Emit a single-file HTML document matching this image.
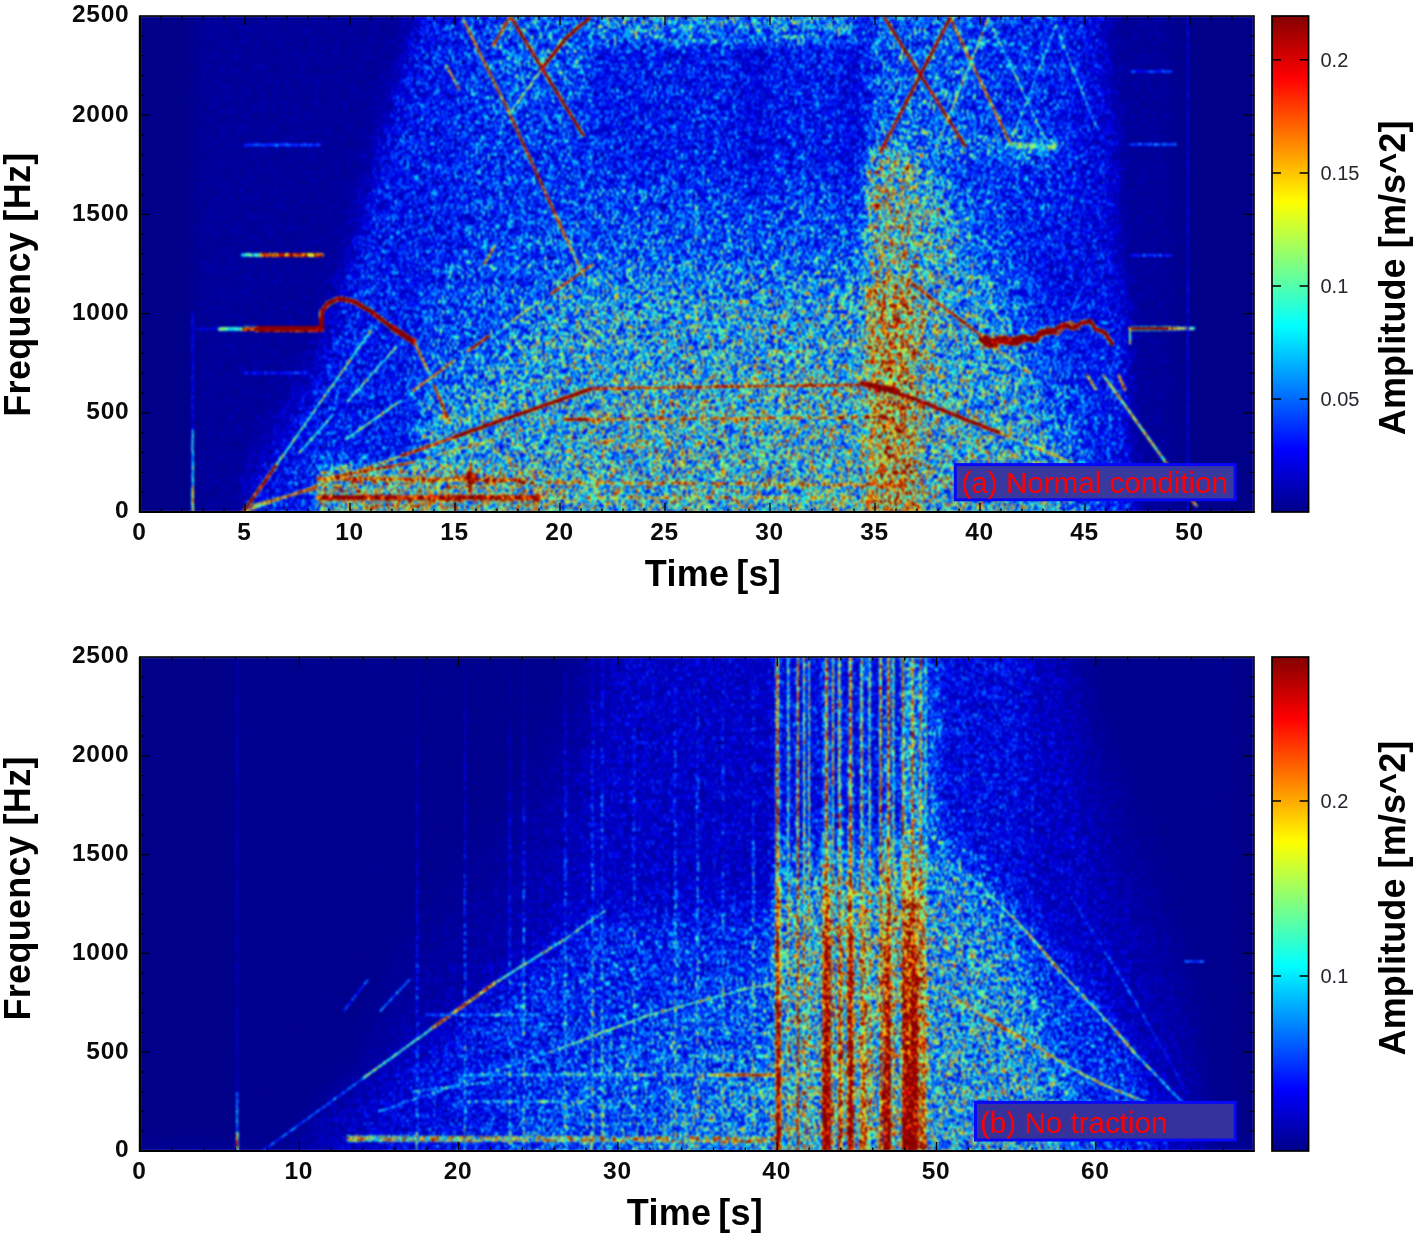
<!DOCTYPE html>
<html lang="en"><head><meta charset="utf-8"><title>Spectrograms</title>
<style>
html,body{margin:0;padding:0;background:#fff;}
body{width:1416px;height:1236px;overflow:hidden;font-family:"Liberation Sans",Arial,sans-serif;}
svg{display:block}
.tk{font:bold 24.5px "Liberation Sans",Arial,sans-serif;fill:#0a0a0a;letter-spacing:0.7px}
.ax{font:bold 36px "Liberation Sans",Arial,sans-serif;fill:#000;letter-spacing:0.3px}
.cb{font:20px "Liberation Sans",Arial,sans-serif;fill:#25252d}
.lb{font:29.6px "Liberation Sans",Arial,sans-serif;fill:#ff0000}
</style></head><body>
<svg width="1416" height="1236" viewBox="0 0 1416 1236">
<defs>
<linearGradient id="jet" x1="0" y1="0" x2="0" y2="1">
<stop offset="0" stop-color="#840000"/><stop offset="0.125" stop-color="#ff0000"/>
<stop offset="0.375" stop-color="#ffff00"/><stop offset="0.5" stop-color="#80ff80"/>
<stop offset="0.625" stop-color="#00ffff"/><stop offset="0.875" stop-color="#0000ff"/>
<stop offset="1" stop-color="#000088"/></linearGradient>

<filter id="sp1" filterUnits="userSpaceOnUse" x="140.0" y="16.0" width="1114.0" height="496.0" color-interpolation-filters="sRGB">
<feTurbulence type="fractalNoise" baseFrequency="0.42 0.20" numOctaves="2" seed="4" result="n1"/>
<feTurbulence type="fractalNoise" baseFrequency="0.60 0.28" numOctaves="2" seed="11" result="n2"/>
<feTurbulence type="fractalNoise" baseFrequency="0.15 0.08" numOctaves="1" seed="7" result="n3"/>
<feComposite in="n1" in2="n2" operator="arithmetic" k1="0" k2="0.5" k3="0.5" k4="0" result="n12"/>
<feComposite in="n12" in2="n3" operator="arithmetic" k1="0" k2="0.78" k3="0.22" k4="0" result="n"/>
<feColorMatrix in="n" type="matrix" values="1 0 0 0 0  1 0 0 0 0  1 0 0 0 0  0 0 0 0 1" result="ng"/>
<feComponentTransfer in="ng" result="nc"><feFuncR type="linear" slope="3.0" intercept="-1.0"/><feFuncG type="linear" slope="3.0" intercept="-1.0"/><feFuncB type="linear" slope="3.0" intercept="-1.0"/></feComponentTransfer>
<feComponentTransfer in="nc" result="ne"><feFuncR type="gamma" exponent="2.0"/><feFuncG type="gamma" exponent="2.0"/><feFuncB type="gamma" exponent="2.0"/></feComponentTransfer>
<feColorMatrix in="SourceGraphic" type="matrix" values="1 0 0 0 0  1 0 0 0 0  1 0 0 0 0  0 0 0 0 1" result="fr"/>
<feColorMatrix in="SourceGraphic" type="matrix" values="0 1 0 0 0  0 1 0 0 0  0 1 0 0 0  0 0 0 0 1" result="fg"/>
<feComposite in="fr" in2="ne" operator="arithmetic" k1="1.7" k2="0.12" k3="0" k4="0" result="m0"/>
<feComposite in="m0" in2="fg" operator="arithmetic" k1="0" k2="1" k3="1" k4="0" result="m"/>
<feComponentTransfer in="m" result="j"><feFuncR type="table" tableValues="0 0 0 0 0.5 1 1 1 0.52"/><feFuncG type="table" tableValues="0 0 0.5 1 1 1 0.5 0 0"/><feFuncB type="table" tableValues="0.54 1 1 1 0.5 0 0 0 0"/><feFuncA type="linear" slope="0" intercept="1"/></feComponentTransfer>
<feGaussianBlur in="j" stdDeviation="0.9"/>
</filter>
<filter id="sp2" filterUnits="userSpaceOnUse" x="140.0" y="657.0" width="1114.0" height="494.0" color-interpolation-filters="sRGB">
<feTurbulence type="fractalNoise" baseFrequency="0.44 0.22" numOctaves="2" seed="23" result="n1"/>
<feTurbulence type="fractalNoise" baseFrequency="0.62 0.31" numOctaves="2" seed="30" result="n2"/>
<feTurbulence type="fractalNoise" baseFrequency="0.16 0.08" numOctaves="1" seed="26" result="n3"/>
<feComposite in="n1" in2="n2" operator="arithmetic" k1="0" k2="0.5" k3="0.5" k4="0" result="n12"/>
<feComposite in="n12" in2="n3" operator="arithmetic" k1="0" k2="0.78" k3="0.22" k4="0" result="n"/>
<feColorMatrix in="n" type="matrix" values="1 0 0 0 0  1 0 0 0 0  1 0 0 0 0  0 0 0 0 1" result="ng"/>
<feComponentTransfer in="ng" result="nc"><feFuncR type="linear" slope="3.0" intercept="-1.0"/><feFuncG type="linear" slope="3.0" intercept="-1.0"/><feFuncB type="linear" slope="3.0" intercept="-1.0"/></feComponentTransfer>
<feComponentTransfer in="nc" result="ne"><feFuncR type="gamma" exponent="2.0"/><feFuncG type="gamma" exponent="2.0"/><feFuncB type="gamma" exponent="2.0"/></feComponentTransfer>
<feColorMatrix in="SourceGraphic" type="matrix" values="1 0 0 0 0  1 0 0 0 0  1 0 0 0 0  0 0 0 0 1" result="fr"/>
<feColorMatrix in="SourceGraphic" type="matrix" values="0 1 0 0 0  0 1 0 0 0  0 1 0 0 0  0 0 0 0 1" result="fg"/>
<feComposite in="fr" in2="ne" operator="arithmetic" k1="1.7" k2="0.12" k3="0" k4="0" result="m0"/>
<feComposite in="m0" in2="fg" operator="arithmetic" k1="0" k2="1" k3="1" k4="0" result="m"/>
<feComponentTransfer in="m" result="j"><feFuncR type="table" tableValues="0 0 0 0 0.5 1 1 1 0.52"/><feFuncG type="table" tableValues="0 0 0.5 1 1 1 0.5 0 0"/><feFuncB type="table" tableValues="0.54 1 1 1 0.5 0 0 0 0"/><feFuncA type="linear" slope="0" intercept="1"/></feComponentTransfer>
<feGaussianBlur in="j" stdDeviation="0.9"/>
</filter>
<filter id="bg" color-interpolation-filters="sRGB" x="-5%" y="-5%" width="110%" height="110%"><feGaussianBlur stdDeviation="7 10"/></filter>
<filter id="b8" color-interpolation-filters="sRGB" x="-20%" y="-20%" width="140%" height="140%"><feGaussianBlur stdDeviation="8"/></filter>
<filter id="b16" color-interpolation-filters="sRGB" x="-20%" y="-20%" width="140%" height="140%"><feGaussianBlur stdDeviation="16"/></filter>
<filter id="b3" color-interpolation-filters="sRGB" x="-20%" y="-20%" width="140%" height="140%"><feGaussianBlur stdDeviation="3"/></filter>
<filter id="b07" color-interpolation-filters="sRGB" x="-20%" y="-5%" width="140%" height="110%"><feGaussianBlur stdDeviation="0.7 0"/></filter>
<filter id="b1" color-interpolation-filters="sRGB" x="-20%" y="-20%" width="140%" height="140%"><feGaussianBlur stdDeviation="1"/></filter>
<clipPath id="c1"><rect x="140.0" y="16.0" width="1114.0" height="496.0"/></clipPath>
<clipPath id="c2"><rect x="140.0" y="657.0" width="1114.0" height="494.0"/></clipPath>
</defs>
<g clip-path="url(#c1)"><g filter="url(#sp1)">
<rect x="90.0" y="-34.0" width="1214.0" height="596.0" fill="#000"/>
<g filter="url(#bg)">
<path fill="#040000" d="M1169.0 512.0H1179.8V532.1H1169.0zM1169.0 492.2H1179.8V512.3H1169.0zM1169.0 472.3H1179.8V492.5H1169.0zM1169.0 452.5H1179.8V472.6H1169.0zM1169.0 432.6H1179.8V452.8H1169.0zM1169.0 412.8H1179.8V432.9H1169.0zM1169.0 393.0H1179.8V413.1H1169.0zM1169.0 373.1H1179.8V393.3H1169.0zM1169.0 353.3H1179.8V373.4H1169.0zM1169.0 333.4H1179.8V353.6H1169.0zM1169.0 313.6H1179.8V333.7H1169.0zM1169.0 293.8H1179.8V313.9H1169.0zM1169.0 273.9H1179.8V294.1H1169.0zM1169.0 254.1H1179.8V274.2H1169.0zM1169.0 234.2H1179.8V254.4H1169.0zM1169.0 214.4H1179.8V234.5H1169.0zM1169.0 194.6H1179.8V214.7H1169.0zM1169.0 174.7H1179.8V194.9H1169.0zM1169.0 154.9H1179.8V175.0H1169.0zM1169.0 135.0H1179.8V155.2H1169.0zM1169.0 115.2H1179.8V135.3H1169.0zM1169.0 95.4H1179.8V115.5H1169.0zM1169.0 75.5H1179.8V95.7H1169.0zM1169.0 55.7H1179.8V75.8H1169.0zM1169.0 35.8H1179.8V56.0H1169.0zM1169.0 16.0H1179.8V36.1H1169.0zM1169.0 -3.8H1179.8V16.3H1169.0z"/>
<path fill="#060000" d="M192.5 512.0H203.3V532.1H192.5zM192.5 492.2H203.3V512.3H192.5zM192.5 472.3H203.3V492.5H192.5zM192.5 452.5H203.3V472.6H192.5zM192.5 432.6H203.3V452.8H192.5zM192.5 412.8H203.3V432.9H192.5zM192.5 393.0H203.3V413.1H192.5zM192.5 373.1H203.3V393.3H192.5zM192.5 353.3H203.3V373.4H192.5zM192.5 333.4H203.3V353.6H192.5zM192.5 313.6H203.3V333.7H192.5zM192.5 293.8H203.3V313.9H192.5zM192.5 273.9H203.3V294.1H192.5zM192.5 254.1H203.3V274.2H192.5zM192.5 234.2H203.3V254.4H192.5zM192.5 214.4H203.3V234.5H192.5zM192.5 194.6H203.3V214.7H192.5zM192.5 174.7H203.3V194.9H192.5zM192.5 154.9H203.3V175.0H192.5zM192.5 135.0H203.3V155.2H192.5zM192.5 115.2H203.3V135.3H192.5zM192.5 95.4H203.3V115.5H192.5zM192.5 75.5H203.3V95.7H192.5zM192.5 55.7H203.3V75.8H192.5zM192.5 35.8H203.3V56.0H192.5zM192.5 16.0H203.3V36.1H192.5zM192.5 -3.8H203.3V16.3H192.5z"/>
<path fill="#080000" d="M203.0 512.0H245.3V532.1H203.0zM1137.5 512.0H1169.3V532.1H1137.5zM203.0 492.2H245.3V512.3H203.0zM1137.5 492.2H1169.3V512.3H1137.5zM203.0 472.3H245.3V492.5H203.0zM1137.5 472.3H1169.3V492.5H1137.5zM203.0 452.5H245.3V472.6H203.0zM1137.5 452.5H1169.3V472.6H1137.5zM203.0 432.6H255.8V452.8H203.0zM1137.5 432.6H1169.3V452.8H1137.5zM203.0 412.8H266.3V432.9H203.0zM1127.0 412.8H1169.3V432.9H1127.0zM203.0 393.0H276.8V413.1H203.0zM1127.0 393.0H1169.3V413.1H1127.0zM203.0 373.1H287.3V393.3H203.0zM1127.0 373.1H1169.3V393.3H1127.0zM203.0 353.3H297.8V373.4H203.0zM1127.0 353.3H1169.3V373.4H1127.0zM203.0 333.4H308.3V353.6H203.0zM1127.0 333.4H1169.3V353.6H1127.0zM203.0 313.6H318.8V333.7H203.0zM1127.0 313.6H1169.3V333.7H1127.0zM203.0 293.8H329.3V313.9H203.0zM1127.0 293.8H1169.3V313.9H1127.0zM203.0 273.9H329.3V294.1H203.0zM1127.0 273.9H1169.3V294.1H1127.0zM203.0 254.1H339.8V274.2H203.0zM1127.0 254.1H1169.3V274.2H1127.0zM203.0 234.2H339.8V254.4H203.0zM1116.5 234.2H1169.3V254.4H1116.5zM203.0 214.4H350.3V234.5H203.0zM1116.5 214.4H1169.3V234.5H1116.5zM203.0 194.6H350.3V214.7H203.0zM1116.5 194.6H1169.3V214.7H1116.5zM203.0 174.7H360.8V194.9H203.0zM1116.5 174.7H1169.3V194.9H1116.5zM203.0 154.9H360.8V175.0H203.0zM1116.5 154.9H1169.3V175.0H1116.5zM203.0 135.0H371.3V155.2H203.0zM1116.5 135.0H1169.3V155.2H1116.5zM203.0 115.2H371.3V135.3H203.0zM1116.5 115.2H1169.3V135.3H1116.5zM203.0 95.4H381.8V115.5H203.0zM1116.5 95.4H1169.3V115.5H1116.5zM203.0 75.5H392.3V95.7H203.0zM1116.5 75.5H1169.3V95.7H1116.5zM203.0 55.7H392.3V75.8H203.0zM1116.5 55.7H1169.3V75.8H1116.5zM203.0 35.8H402.8V56.0H203.0zM1106.0 35.8H1169.3V56.0H1106.0zM203.0 16.0H402.8V36.1H203.0zM1106.0 16.0H1169.3V36.1H1106.0zM203.0 -3.8H413.3V16.3H203.0zM1106.0 -3.8H1169.3V16.3H1106.0z"/>
<path fill="#0a0000" d="M308.0 333.4H318.8V353.6H308.0zM360.5 154.9H371.3V175.0H360.5zM371.0 115.2H381.8V135.3H371.0zM1106.0 55.7H1116.8V75.8H1106.0z"/>
<path fill="#0c0000" d="M1127.0 432.6H1137.8V452.8H1127.0zM297.5 353.3H308.3V373.4H297.5zM339.5 234.2H350.3V254.4H339.5zM350.0 194.6H360.8V214.7H350.0z"/>
<path fill="#0e0000" d="M276.5 393.0H287.3V413.1H276.5zM287.0 373.1H297.8V393.3H287.0zM329.0 273.9H339.8V294.1H329.0z"/>
<path fill="#100000" d="M255.5 432.6H266.3V452.8H255.5zM266.0 412.8H276.8V432.9H266.0zM1116.5 254.1H1127.3V274.2H1116.5zM402.5 16.0H413.3V36.1H402.5z"/>
<path fill="#120000" d="M245.0 452.5H255.8V472.6H245.0zM318.5 313.6H329.3V333.7H318.5zM381.5 95.4H392.3V115.5H381.5zM1106.0 75.5H1116.8V95.7H1106.0zM392.0 55.7H402.8V75.8H392.0z"/>
<path fill="#140000" d="M1127.0 452.5H1137.8V472.6H1127.0zM360.5 174.7H371.3V194.9H360.5zM371.0 135.0H381.8V155.2H371.0z"/>
<path fill="#160000" d="M297.5 373.1H308.3V393.3H297.5zM308.0 353.3H318.8V373.4H308.0zM339.5 254.1H350.3V274.2H339.5zM350.0 214.4H360.8V234.5H350.0z"/>
<path fill="#180000" d="M276.5 412.8H287.3V432.9H276.5zM287.0 393.0H297.8V413.1H287.0z"/>
<path fill="#1a0000" d="M266.0 432.6H276.8V452.8H266.0zM329.0 293.8H339.8V313.9H329.0zM1106.0 95.4H1116.8V115.5H1106.0zM413.0 -3.8H423.8V16.3H413.0z"/>
<path fill="#1c0000" d="M245.0 472.3H255.8V492.5H245.0zM255.5 452.5H266.3V472.6H255.5zM318.5 333.4H329.3V353.6H318.5zM1116.5 273.9H1127.3V294.1H1116.5zM392.0 75.5H402.8V95.7H392.0zM402.5 35.8H413.3V56.0H402.5z"/>
<path fill="#1e0000" d="M371.0 154.9H381.8V175.0H371.0zM381.5 115.2H392.3V135.3H381.5z"/>
<path fill="#200000" d="M1127.0 472.3H1137.8V492.5H1127.0zM308.0 373.1H318.8V393.3H308.0zM350.0 234.2H360.8V254.4H350.0zM360.5 194.6H371.3V214.7H360.5z"/>
<path fill="#220000" d="M287.0 412.8H297.8V432.9H287.0zM297.5 393.0H308.3V413.1H297.5zM339.5 273.9H350.3V294.1H339.5zM1106.0 115.2H1116.8V135.3H1106.0z"/>
<path fill="#240000" d="M266.0 452.5H276.8V472.6H266.0zM276.5 432.6H287.3V452.8H276.5zM329.0 313.6H339.8V333.7H329.0z"/>
<path fill="#260000" d="M255.5 472.3H266.3V492.5H255.5zM318.5 353.3H329.3V373.4H318.5zM1106.0 135.0H1116.8V155.2H1106.0zM402.5 55.7H413.3V75.8H402.5zM413.0 16.0H423.8V36.1H413.0z"/>
<path fill="#280000" d="M245.0 492.2H255.8V512.3H245.0zM1127.0 492.2H1137.8V512.3H1127.0zM1116.5 293.8H1127.3V313.9H1116.5zM843.5 154.9H864.8V175.0H843.5zM381.5 135.0H392.3V155.2H381.5zM843.5 135.0H864.8V155.2H843.5zM843.5 115.2H864.8V135.3H843.5zM392.0 95.4H402.8V115.5H392.0zM843.5 95.4H864.8V115.5H843.5zM843.5 75.5H864.8V95.7H843.5zM843.5 55.7H864.8V75.8H843.5zM843.5 35.8H864.8V56.0H843.5z"/>
<path fill="#2a0000" d="M308.0 393.0H318.8V413.1H308.0zM1053.5 254.1H1116.8V274.2H1053.5zM1085.0 234.2H1116.8V254.4H1085.0zM360.5 214.4H371.3V234.5H360.5zM1085.0 214.4H1116.8V234.5H1085.0zM1085.0 194.6H1116.8V214.7H1085.0zM371.0 174.7H381.8V194.9H371.0zM1085.0 174.7H1116.8V194.9H1085.0zM749.0 154.9H759.8V175.0H749.0zM1085.0 154.9H1116.8V175.0H1085.0zM749.0 135.0H759.8V155.2H749.0zM1085.0 135.0H1106.3V155.2H1085.0zM749.0 115.2H759.8V135.3H749.0zM1085.0 115.2H1106.3V135.3H1085.0zM749.0 95.4H759.8V115.5H749.0zM1085.0 95.4H1106.3V115.5H1085.0zM749.0 75.5H759.8V95.7H749.0zM1085.0 75.5H1106.3V95.7H1085.0zM749.0 55.7H759.8V75.8H749.0zM1085.0 55.7H1106.3V75.8H1085.0zM749.0 35.8H759.8V56.0H749.0zM1085.0 35.8H1106.3V56.0H1085.0zM1085.0 16.0H1106.3V36.1H1085.0zM1085.0 -3.8H1106.3V16.3H1085.0z"/>
<path fill="#2c0000" d="M287.0 432.6H297.8V452.8H287.0zM297.5 412.8H308.3V432.9H297.5zM339.5 293.8H350.3V313.9H339.5zM350.0 254.1H360.8V274.2H350.0zM1074.5 234.2H1085.3V254.4H1074.5zM738.5 154.9H749.3V175.0H738.5zM759.5 154.9H770.3V175.0H759.5zM738.5 135.0H749.3V155.2H738.5zM759.5 135.0H770.3V155.2H759.5zM738.5 115.2H749.3V135.3H738.5zM759.5 115.2H770.3V135.3H759.5zM738.5 95.4H749.3V115.5H738.5zM759.5 95.4H770.3V115.5H759.5zM738.5 75.5H749.3V95.7H738.5zM759.5 75.5H770.3V95.7H759.5zM738.5 55.7H749.3V75.8H738.5zM759.5 55.7H770.3V75.8H759.5zM738.5 35.8H749.3V56.0H738.5zM759.5 35.8H770.3V56.0H759.5z"/>
<path fill="#2e0000" d="M266.0 472.3H276.8V492.5H266.0zM276.5 452.5H287.3V472.6H276.5zM329.0 333.4H339.8V353.6H329.0zM1053.5 273.9H1116.8V294.1H1053.5zM1043.0 254.1H1053.8V274.2H1043.0zM413.0 35.8H423.8V56.0H413.0zM423.5 -3.8H434.3V16.3H423.5z"/>
<path fill="#300000" d="M245.0 512.0H255.8V532.1H245.0zM1127.0 512.0H1137.8V532.1H1127.0zM255.5 492.2H266.3V512.3H255.5zM318.5 373.1H329.3V393.3H318.5zM1043.0 273.9H1053.8V294.1H1043.0zM1032.5 254.1H1043.3V274.2H1032.5zM1074.5 214.4H1085.3V234.5H1074.5zM1074.5 194.6H1085.3V214.7H1074.5zM1074.5 174.7H1085.3V194.9H1074.5zM1074.5 154.9H1085.3V175.0H1074.5zM1074.5 135.0H1085.3V155.2H1074.5zM392.0 115.2H402.8V135.3H392.0zM1074.5 115.2H1085.3V135.3H1074.5zM1074.5 95.4H1085.3V115.5H1074.5zM402.5 75.5H413.3V95.7H402.5zM1074.5 75.5H1085.3V95.7H1074.5zM1074.5 55.7H1085.3V75.8H1074.5zM1074.5 35.8H1085.3V56.0H1074.5zM1074.5 16.0H1085.3V36.1H1074.5zM1074.5 -3.8H1085.3V16.3H1074.5z"/>
<path fill="#320000" d="M308.0 412.8H318.8V432.9H308.0zM1116.5 313.6H1127.3V333.7H1116.5zM1032.5 273.9H1043.3V294.1H1032.5zM360.5 234.2H371.3V254.4H360.5zM371.0 194.6H381.8V214.7H371.0zM381.5 154.9H392.3V175.0H381.5z"/>
<path fill="#340000" d="M276.5 472.3H287.3V492.5H276.5zM287.0 452.5H297.8V472.6H287.0zM297.5 432.6H308.3V452.8H297.5zM329.0 353.3H339.8V373.4H329.0zM339.5 313.6H350.3V333.7H339.5zM1043.0 293.8H1116.8V313.9H1043.0zM350.0 273.9H360.8V294.1H350.0zM1064.0 234.2H1074.8V254.4H1064.0zM423.5 16.0H434.3V36.1H423.5z"/>
<path fill="#360000" d="M255.5 512.0H266.3V532.1H255.5zM266.0 492.2H276.8V512.3H266.0zM318.5 393.0H329.3V413.1H318.5zM1064.0 313.6H1116.8V333.7H1064.0zM1022.0 254.1H1032.8V274.2H1022.0zM1053.5 234.2H1064.3V254.4H1053.5zM371.0 214.4H381.8V234.5H371.0zM381.5 174.7H392.3V194.9H381.5zM843.5 174.7H864.8V194.9H843.5zM833.0 154.9H843.8V175.0H833.0zM392.0 135.0H402.8V155.2H392.0zM833.0 135.0H843.8V155.2H833.0zM833.0 115.2H843.8V135.3H833.0zM402.5 95.4H413.3V115.5H402.5zM833.0 95.4H843.8V115.5H833.0zM833.0 75.5H843.8V95.7H833.0zM413.0 55.7H423.8V75.8H413.0zM833.0 55.7H843.8V75.8H833.0zM833.0 35.8H843.8V56.0H833.0z"/>
<path fill="#380000" d="M266.0 512.0H318.8V532.1H266.0zM1095.5 512.0H1127.3V532.1H1095.5zM276.5 492.2H318.8V512.3H276.5zM1095.5 492.2H1127.3V512.3H1095.5zM287.0 472.3H318.8V492.5H287.0zM1095.5 472.3H1127.3V492.5H1095.5zM297.5 452.5H413.3V472.6H297.5zM1095.5 452.5H1127.3V472.6H1095.5zM308.0 432.6H413.3V452.8H308.0zM1085.0 432.6H1127.3V452.8H1085.0zM318.5 412.8H413.3V432.9H318.5zM1085.0 412.8H1127.3V432.9H1085.0zM329.0 393.0H413.3V413.1H329.0zM1085.0 393.0H1127.3V413.1H1085.0zM329.0 373.1H413.3V393.3H329.0zM1074.5 373.1H1127.3V393.3H1074.5zM339.5 353.3H413.3V373.4H339.5zM1064.0 353.3H1127.3V373.4H1064.0zM339.5 333.4H423.8V353.6H339.5zM1064.0 333.4H1127.3V353.6H1064.0zM350.0 313.6H423.8V333.7H350.0zM1053.5 313.6H1064.3V333.7H1053.5zM350.0 293.8H423.8V313.9H350.0zM360.5 273.9H423.8V294.1H360.5zM360.5 254.1H434.3V274.2H360.5zM371.0 234.2H455.3V254.4H371.0zM1043.0 234.2H1053.8V254.4H1043.0zM381.5 214.4H455.3V234.5H381.5zM1064.0 214.4H1074.8V234.5H1064.0zM381.5 194.6H455.3V214.7H381.5zM1064.0 194.6H1074.8V214.7H1064.0zM392.0 174.7H455.3V194.9H392.0zM749.0 174.7H770.3V194.9H749.0zM1064.0 174.7H1074.8V194.9H1064.0zM392.0 154.9H455.3V175.0H392.0zM591.5 154.9H738.8V175.0H591.5zM770.0 154.9H833.3V175.0H770.0zM1064.0 154.9H1074.8V175.0H1064.0zM402.5 135.0H455.3V155.2H402.5zM591.5 135.0H738.8V155.2H591.5zM770.0 135.0H833.3V155.2H770.0zM1064.0 135.0H1074.8V155.2H1064.0zM402.5 115.2H455.3V135.3H402.5zM591.5 115.2H738.8V135.3H591.5zM770.0 115.2H833.3V135.3H770.0zM1064.0 115.2H1074.8V135.3H1064.0zM413.0 95.4H455.3V115.5H413.0zM591.5 95.4H738.8V115.5H591.5zM770.0 95.4H833.3V115.5H770.0zM1064.0 95.4H1074.8V115.5H1064.0zM413.0 75.5H455.3V95.7H413.0zM591.5 75.5H738.8V95.7H591.5zM770.0 75.5H833.3V95.7H770.0zM1064.0 75.5H1074.8V95.7H1064.0zM423.5 55.7H455.3V75.8H423.5zM591.5 55.7H738.8V75.8H591.5zM770.0 55.7H833.3V75.8H770.0zM1064.0 55.7H1074.8V75.8H1064.0zM423.5 35.8H455.3V56.0H423.5zM591.5 35.8H738.8V56.0H591.5zM770.0 35.8H833.3V56.0H770.0zM1064.0 35.8H1074.8V56.0H1064.0zM434.0 16.0H455.3V36.1H434.0zM854.0 16.0H864.8V36.1H854.0zM1064.0 16.0H1074.8V36.1H1064.0zM434.0 -3.8H455.3V16.3H434.0zM854.0 -3.8H864.8V16.3H854.0zM1064.0 -3.8H1074.8V16.3H1064.0z"/>
<path fill="#3a0000" d="M1053.5 333.4H1064.3V353.6H1053.5zM434.0 254.1H444.8V274.2H434.0zM455.0 234.2H465.8V254.4H455.0zM1032.5 234.2H1043.3V254.4H1032.5zM1053.5 214.4H1064.3V234.5H1053.5zM1053.5 194.6H1064.3V214.7H1053.5zM738.5 174.7H749.3V194.9H738.5zM1053.5 174.7H1064.3V194.9H1053.5zM1053.5 154.9H1064.3V175.0H1053.5zM1053.5 115.2H1064.3V135.3H1053.5zM1053.5 95.4H1064.3V115.5H1053.5zM1053.5 75.5H1064.3V95.7H1053.5zM1053.5 55.7H1064.3V75.8H1053.5zM1053.5 35.8H1064.3V56.0H1053.5zM1053.5 16.0H1064.3V36.1H1053.5zM1053.5 -3.8H1064.3V16.3H1053.5z"/>
<path fill="#3c0000" d="M1043.0 313.6H1053.8V333.7H1043.0zM423.5 273.9H434.3V294.1H423.5zM1022.0 234.2H1032.8V254.4H1022.0zM455.0 214.4H465.8V234.5H455.0zM1043.0 214.4H1053.8V234.5H1043.0zM455.0 194.6H465.8V214.7H455.0zM1043.0 194.6H1053.8V214.7H1043.0zM455.0 174.7H465.8V194.9H455.0zM1043.0 174.7H1053.8V194.9H1043.0zM455.0 154.9H465.8V175.0H455.0zM1043.0 154.9H1053.8V175.0H1043.0zM455.0 135.0H465.8V155.2H455.0zM455.0 115.2H465.8V135.3H455.0zM1043.0 115.2H1053.8V135.3H1043.0zM455.0 95.4H465.8V115.5H455.0zM1043.0 95.4H1053.8V115.5H1043.0zM455.0 75.5H465.8V95.7H455.0zM1043.0 75.5H1053.8V95.7H1043.0zM455.0 55.7H465.8V75.8H455.0zM1043.0 55.7H1053.8V75.8H1043.0zM455.0 35.8H465.8V56.0H455.0zM1043.0 35.8H1053.8V56.0H1043.0zM455.0 16.0H465.8V36.1H455.0zM1043.0 16.0H1053.8V36.1H1043.0zM455.0 -3.8H465.8V16.3H455.0zM1043.0 -3.8H1053.8V16.3H1043.0z"/>
<path fill="#3e0000" d="M413.0 353.3H423.8V373.4H413.0zM1011.5 234.2H1022.3V254.4H1011.5zM1032.5 214.4H1043.3V234.5H1032.5zM843.5 194.6H864.8V214.7H843.5zM1032.5 194.6H1043.3V214.7H1032.5zM1032.5 174.7H1043.3V194.9H1032.5zM1032.5 154.9H1043.3V175.0H1032.5zM1032.5 115.2H1043.3V135.3H1032.5zM1032.5 95.4H1043.3V115.5H1032.5zM1032.5 75.5H1043.3V95.7H1032.5zM1032.5 55.7H1043.3V75.8H1032.5zM1032.5 35.8H1043.3V56.0H1032.5zM1032.5 16.0H1043.3V36.1H1032.5zM1032.5 -3.8H1043.3V16.3H1032.5z"/>
<path fill="#400000" d="M1022.0 214.4H1032.8V234.5H1022.0zM1022.0 194.6H1032.8V214.7H1022.0zM1022.0 174.7H1032.8V194.9H1022.0zM1022.0 154.9H1032.8V175.0H1022.0zM1022.0 115.2H1032.8V135.3H1022.0zM1022.0 95.4H1032.8V115.5H1022.0zM1022.0 75.5H1032.8V95.7H1022.0zM1022.0 55.7H1032.8V75.8H1022.0zM1022.0 35.8H1032.8V56.0H1022.0zM1022.0 16.0H1032.8V36.1H1022.0zM1022.0 -3.8H1032.8V16.3H1022.0z"/>
<path fill="#420000" d="M1085.0 452.5H1095.8V472.6H1085.0zM1032.5 293.8H1043.3V313.9H1032.5zM444.5 254.1H455.3V274.2H444.5zM465.5 234.2H476.3V254.4H465.5zM1011.5 214.4H1022.3V234.5H1011.5zM749.0 194.6H770.3V214.7H749.0zM1011.5 194.6H1022.3V214.7H1011.5zM1011.5 174.7H1022.3V194.9H1011.5zM1011.5 154.9H1022.3V175.0H1011.5zM1011.5 115.2H1022.3V135.3H1011.5zM1011.5 95.4H1022.3V115.5H1011.5zM1011.5 75.5H1022.3V95.7H1011.5zM1011.5 55.7H1022.3V75.8H1011.5zM1011.5 35.8H1022.3V56.0H1011.5zM1011.5 16.0H1022.3V36.1H1011.5zM1011.5 -3.8H1022.3V16.3H1011.5z"/>
<path fill="#440000" d="M1001.0 214.4H1011.8V234.5H1001.0zM738.5 194.6H749.3V214.7H738.5zM1001.0 194.6H1011.8V214.7H1001.0zM833.0 174.7H843.8V194.9H833.0zM1001.0 174.7H1011.8V194.9H1001.0zM1001.0 154.9H1011.8V175.0H1001.0zM1001.0 115.2H1011.8V135.3H1001.0zM1001.0 95.4H1011.8V115.5H1001.0zM1001.0 75.5H1011.8V95.7H1001.0zM1001.0 55.7H1011.8V75.8H1001.0zM1001.0 35.8H1011.8V56.0H1001.0zM1001.0 16.0H1011.8V36.1H1001.0zM1001.0 -3.8H1011.8V16.3H1001.0z"/>
<path fill="#460000" d="M465.5 214.4H528.8V234.5H465.5zM843.5 214.4H864.8V234.5H843.5zM465.5 194.6H570.8V214.7H465.5zM465.5 174.7H738.8V194.9H465.5zM770.0 174.7H833.3V194.9H770.0zM990.5 174.7H1001.3V194.9H990.5zM465.5 154.9H591.8V175.0H465.5zM938.0 154.9H1001.3V175.0H938.0zM465.5 135.0H591.8V155.2H465.5zM864.5 135.0H875.3V155.2H864.5zM465.5 115.2H591.8V135.3H465.5zM864.5 115.2H875.3V135.3H864.5zM980.0 115.2H1001.3V135.3H980.0zM465.5 95.4H497.3V115.5H465.5zM581.0 95.4H591.8V115.5H581.0zM864.5 95.4H875.3V115.5H864.5zM980.0 95.4H1001.3V115.5H980.0zM465.5 75.5H486.8V95.7H465.5zM864.5 75.5H875.3V95.7H864.5zM980.0 75.5H1001.3V95.7H980.0zM465.5 55.7H486.8V75.8H465.5zM864.5 55.7H875.3V75.8H864.5zM980.0 55.7H1001.3V75.8H980.0zM465.5 35.8H486.8V56.0H465.5zM864.5 35.8H875.3V56.0H864.5zM980.0 35.8H1001.3V56.0H980.0zM465.5 16.0H486.8V36.1H465.5zM864.5 16.0H875.3V36.1H864.5zM980.0 16.0H1001.3V36.1H980.0zM465.5 -3.8H486.8V16.3H465.5zM864.5 -3.8H875.3V16.3H864.5zM980.0 -3.8H1001.3V16.3H980.0z"/>
<path fill="#480000" d="M1074.5 393.0H1085.3V413.1H1074.5zM1022.0 273.9H1032.8V294.1H1022.0zM476.0 234.2H486.8V254.4H476.0zM570.5 194.6H581.3V214.7H570.5zM980.0 174.7H990.8V194.9H980.0zM969.5 115.2H980.3V135.3H969.5zM969.5 95.4H980.3V115.5H969.5zM969.5 75.5H980.3V95.7H969.5zM969.5 55.7H980.3V75.8H969.5zM969.5 35.8H980.3V56.0H969.5zM969.5 16.0H980.3V36.1H969.5zM969.5 -3.8H980.3V16.3H969.5z"/>
<path fill="#4a0000" d="M1064.0 373.1H1074.8V393.3H1064.0zM434.0 273.9H444.8V294.1H434.0zM455.0 254.1H465.8V274.2H455.0zM528.5 214.4H539.3V234.5H528.5zM990.5 194.6H1001.3V214.7H990.5zM969.5 174.7H980.3V194.9H969.5z"/>
<path fill="#4c0000" d="M1053.5 353.3H1064.3V373.4H1053.5zM1043.0 333.4H1053.8V353.6H1043.0zM423.5 293.8H434.3V313.9H423.5zM486.5 234.2H497.3V254.4H486.5zM843.5 234.2H864.8V254.4H843.5zM581.0 194.6H591.8V214.7H581.0zM833.0 194.6H843.8V214.7H833.0zM959.0 174.7H969.8V194.9H959.0zM497.0 95.4H581.3V115.5H497.0zM486.5 75.5H497.3V95.7H486.5zM581.0 75.5H591.8V95.7H581.0zM486.5 55.7H497.3V75.8H486.5zM581.0 55.7H591.8V75.8H581.0zM486.5 35.8H497.3V56.0H486.5zM581.0 35.8H591.8V56.0H581.0zM486.5 16.0H497.3V36.1H486.5zM581.0 16.0H591.8V36.1H581.0zM486.5 -3.8H497.3V16.3H486.5zM581.0 -3.8H591.8V16.3H581.0z"/>
<path fill="#4e0000" d="M413.0 373.1H423.8V393.3H413.0zM1011.5 254.1H1022.3V274.2H1011.5zM497.0 234.2H507.8V254.4H497.0zM539.0 214.4H549.8V234.5H539.0zM738.5 214.4H770.3V234.5H738.5zM591.5 194.6H738.8V214.7H591.5zM770.0 194.6H833.3V214.7H770.0zM948.5 174.7H959.3V194.9H948.5z"/>
<path fill="#500000" d="M1085.0 472.3H1095.8V492.5H1085.0zM1032.5 313.6H1043.3V333.7H1032.5zM444.5 273.9H455.3V294.1H444.5zM465.5 254.1H476.3V274.2H465.5zM507.5 234.2H518.3V254.4H507.5zM549.5 214.4H560.3V234.5H549.5z"/>
<path fill="#520000" d="M1074.5 412.8H1085.3V432.9H1074.5zM1064.0 393.0H1074.8V413.1H1064.0zM1022.0 293.8H1032.8V313.9H1022.0zM476.0 254.1H486.8V274.2H476.0zM518.0 234.2H528.8V254.4H518.0zM738.5 234.2H770.3V254.4H738.5zM1001.0 234.2H1011.8V254.4H1001.0zM560.0 214.4H581.3V234.5H560.0zM980.0 194.6H990.8V214.7H980.0z"/>
<path fill="#540000" d="M1085.0 512.0H1095.8V532.1H1085.0zM1085.0 492.2H1095.8V512.3H1085.0zM1074.5 472.3H1085.3V492.5H1074.5zM413.0 452.5H423.8V472.6H413.0zM1074.5 452.5H1085.3V472.6H1074.5zM413.0 432.6H423.8V452.8H413.0zM1074.5 432.6H1085.3V452.8H1074.5zM413.0 412.8H423.8V432.9H413.0zM1064.0 412.8H1074.8V432.9H1064.0zM413.0 393.0H423.8V413.1H413.0zM1053.5 393.0H1064.3V413.1H1053.5zM1043.0 373.1H1064.3V393.3H1043.0zM423.5 353.3H455.3V373.4H423.5zM1032.5 353.3H1053.8V373.4H1032.5zM423.5 333.4H486.8V353.6H423.5zM1022.0 333.4H1043.3V353.6H1022.0zM423.5 313.6H507.8V333.7H423.5zM1011.5 313.6H1032.8V333.7H1011.5zM434.0 293.8H528.8V313.9H434.0zM1011.5 293.8H1022.3V313.9H1011.5zM455.0 273.9H539.3V294.1H455.0zM1001.0 273.9H1022.3V294.1H1001.0zM486.5 254.1H560.3V274.2H486.5zM990.5 254.1H1011.8V274.2H990.5zM528.5 234.2H738.8V254.4H528.5zM770.0 234.2H843.8V254.4H770.0zM980.0 234.2H1001.3V254.4H980.0zM581.0 214.4H738.8V234.5H581.0zM770.0 214.4H843.8V234.5H770.0zM969.5 214.4H1001.3V234.5H969.5zM959.0 194.6H980.3V214.7H959.0z"/>
<path fill="#560000" d="M1064.0 432.6H1074.8V452.8H1064.0zM423.5 373.1H434.3V393.3H423.5zM1001.0 293.8H1011.8V313.9H1001.0zM539.0 273.9H549.8V294.1H539.0zM560.0 254.1H570.8V274.2H560.0zM969.5 234.2H980.3V254.4H969.5zM843.5 16.0H854.3V36.1H843.5zM843.5 -3.8H854.3V16.3H843.5z"/>
<path fill="#580000" d="M1053.5 412.8H1064.3V432.9H1053.5zM455.0 353.3H465.8V373.4H455.0zM927.5 154.9H938.3V175.0H927.5zM749.0 16.0H759.8V36.1H749.0zM749.0 -3.8H759.8V16.3H749.0z"/>
<path fill="#5a0000" d="M570.5 254.1H581.3V274.2H570.5zM875.0 135.0H885.8V155.2H875.0zM1053.5 135.0H1064.3V155.2H1053.5zM875.0 115.2H885.8V135.3H875.0zM875.0 95.4H885.8V115.5H875.0zM875.0 75.5H885.8V95.7H875.0zM875.0 55.7H885.8V75.8H875.0zM875.0 35.8H885.8V56.0H875.0zM738.5 16.0H749.3V36.1H738.5zM759.5 16.0H770.3V36.1H759.5zM875.0 16.0H885.8V36.1H875.0zM738.5 -3.8H749.3V16.3H738.5zM759.5 -3.8H770.3V16.3H759.5zM875.0 -3.8H885.8V16.3H875.0z"/>
<path fill="#5c0000" d="M1043.0 393.0H1053.8V413.1H1043.0zM486.5 333.4H497.3V353.6H486.5zM990.5 273.9H1001.3V294.1H990.5zM980.0 254.1H990.8V274.2H980.0zM885.5 115.2H969.8V135.3H885.5zM885.5 95.4H969.8V115.5H885.5zM497.0 75.5H581.3V95.7H497.0zM885.5 75.5H969.8V95.7H885.5zM497.0 55.7H581.3V75.8H497.0zM885.5 55.7H969.8V75.8H885.5zM497.0 35.8H581.3V56.0H497.0zM885.5 35.8H969.8V56.0H885.5zM497.0 16.0H581.3V36.1H497.0zM885.5 16.0H969.8V36.1H885.5zM497.0 -3.8H581.3V16.3H497.0zM885.5 -3.8H969.8V16.3H885.5z"/>
<path fill="#5e0000" d="M1032.5 373.1H1043.3V393.3H1032.5zM507.5 313.6H518.3V333.7H507.5zM581.0 254.1H591.8V274.2H581.0zM843.5 254.1H864.8V274.2H843.5zM959.0 214.4H969.8V234.5H959.0z"/>
<path fill="#600000" d="M434.0 373.1H444.8V393.3H434.0zM465.5 353.3H476.3V373.4H465.5zM528.5 293.8H539.3V313.9H528.5zM591.5 254.1H843.8V274.2H591.5z"/>
<path fill="#620000" d="M1022.0 353.3H1032.8V373.4H1022.0zM591.5 16.0H602.3V36.1H591.5zM591.5 -3.8H602.3V16.3H591.5z"/>
<path fill="#640000" d="M1074.5 492.2H1085.3V512.3H1074.5zM549.5 273.9H560.3V294.1H549.5zM948.5 194.6H959.3V214.7H948.5zM917.0 154.9H927.8V175.0H917.0zM833.0 16.0H843.8V36.1H833.0zM833.0 -3.8H843.8V16.3H833.0z"/>
<path fill="#660000" d="M602.0 16.0H738.8V36.1H602.0zM770.0 16.0H833.3V36.1H770.0zM602.0 -3.8H738.8V16.3H602.0zM770.0 -3.8H833.3V16.3H770.0z"/>
<path fill="#680000" d="M444.5 373.1H455.3V393.3H444.5zM1011.5 333.4H1022.3V353.6H1011.5z"/>
<path fill="#6a0000" d="M476.0 353.3H486.8V373.4H476.0zM497.0 333.4H507.8V353.6H497.0zM518.0 313.6H528.8V333.7H518.0zM938.0 174.7H948.8V194.9H938.0z"/>
<path fill="#6c0000" d="M1064.0 452.5H1074.8V472.6H1064.0z"/>
<path fill="#6e0000" d="M423.5 393.0H434.3V413.1H423.5zM1001.0 313.6H1011.8V333.7H1001.0zM539.0 293.8H549.8V313.9H539.0zM560.0 273.9H570.8V294.1H560.0z"/>
<path fill="#700000" d="M1053.5 432.6H1064.3V452.8H1053.5zM455.0 373.1H465.8V393.3H455.0zM570.5 273.9H581.3V294.1H570.5z"/>
<path fill="#720000" d="M1043.0 412.8H1053.8V432.9H1043.0zM885.5 135.0H1053.8V155.2H885.5z"/>
<path fill="#740000" d="M1032.5 393.0H1043.3V413.1H1032.5zM486.5 353.3H497.3V373.4H486.5zM507.5 333.4H518.3V353.6H507.5zM990.5 293.8H1001.3V313.9H990.5zM581.0 273.9H591.8V294.1H581.0zM980.0 273.9H990.8V294.1H980.0z"/>
<path fill="#760000" d="M434.0 393.0H444.8V413.1H434.0zM465.5 373.1H476.3V393.3H465.5zM528.5 313.6H539.3V333.7H528.5zM591.5 273.9H864.8V294.1H591.5z"/>
<path fill="#780000" d="M1022.0 373.1H1032.8V393.3H1022.0zM969.5 254.1H980.3V274.2H969.5z"/>
<path fill="#7a0000" d="M1074.5 512.0H1085.3V532.1H1074.5zM549.5 293.8H560.3V313.9H549.5z"/>
<path fill="#7c0000" d="M444.5 393.0H455.3V413.1H444.5z"/>
<path fill="#7e0000" d="M476.0 373.1H486.8V393.3H476.0zM497.0 353.3H507.8V373.4H497.0zM1011.5 353.3H1022.3V373.4H1011.5zM518.0 333.4H528.8V353.6H518.0z"/>
<path fill="#800000" d="M1064.0 472.3H1074.8V492.5H1064.0zM423.5 412.8H434.3V432.9H423.5zM560.0 293.8H570.8V313.9H560.0z"/>
<path fill="#820000" d="M1053.5 452.5H1064.3V472.6H1053.5zM455.0 393.0H465.8V413.1H455.0zM1001.0 333.4H1011.8V353.6H1001.0zM539.0 313.6H549.8V333.7H539.0zM969.5 273.9H980.3V294.1H969.5zM959.0 234.2H969.8V254.4H959.0z"/>
<path fill="#840000" d="M1043.0 432.6H1053.8V452.8H1043.0zM486.5 373.1H497.3V393.3H486.5zM990.5 313.6H1001.3V333.7H990.5zM570.5 293.8H581.3V313.9H570.5zM980.0 293.8H990.8V313.9H980.0z"/>
<path fill="#860000" d="M434.0 412.8H444.8V432.9H434.0zM1032.5 412.8H1043.3V432.9H1032.5zM465.5 393.0H476.3V413.1H465.5zM507.5 353.3H518.3V373.4H507.5zM528.5 333.4H539.3V353.6H528.5zM581.0 293.8H864.8V313.9H581.0zM864.5 194.6H875.3V214.7H864.5zM864.5 174.7H875.3V194.9H864.5zM864.5 154.9H875.3V175.0H864.5z"/>
<path fill="#880000" d="M1022.0 393.0H1032.8V413.1H1022.0zM549.5 313.6H560.3V333.7H549.5z"/>
<path fill="#8a0000" d="M444.5 412.8H455.3V432.9H444.5zM476.0 393.0H486.8V413.1H476.0zM497.0 373.1H507.8V393.3H497.0zM1011.5 373.1H1022.3V393.3H1011.5zM959.0 273.9H969.8V294.1H959.0zM959.0 254.1H969.8V274.2H959.0zM948.5 214.4H959.3V234.5H948.5z"/>
<path fill="#8c0000" d="M1064.0 492.2H1074.8V512.3H1064.0zM1053.5 472.3H1064.3V492.5H1053.5zM423.5 432.6H434.3V452.8H423.5zM455.0 412.8H465.8V432.9H455.0zM518.0 353.3H528.8V373.4H518.0zM1001.0 353.3H1011.8V373.4H1001.0zM539.0 333.4H549.8V353.6H539.0zM560.0 313.6H570.8V333.7H560.0zM969.5 293.8H980.3V313.9H969.5zM927.5 174.7H938.3V194.9H927.5z"/>
<path fill="#8e0000" d="M1022.0 512.0H1074.8V532.1H1022.0zM1022.0 492.2H1064.3V512.3H1022.0zM1011.5 472.3H1053.8V492.5H1011.5zM423.5 452.5H560.3V472.6H423.5zM1011.5 452.5H1053.8V472.6H1011.5zM434.0 432.6H570.8V452.8H434.0zM1001.0 432.6H1043.3V452.8H1001.0zM465.5 412.8H570.8V432.9H465.5zM990.5 412.8H1032.8V432.9H990.5zM486.5 393.0H581.3V413.1H486.5zM969.5 393.0H1022.3V413.1H969.5zM507.5 373.1H623.3V393.3H507.5zM959.0 373.1H1011.8V393.3H959.0zM528.5 353.3H728.3V373.4H528.5zM959.0 353.3H1001.3V373.4H959.0zM549.5 333.4H843.8V353.6H549.5zM959.0 333.4H1001.3V353.6H959.0zM570.5 313.6H864.8V333.7H570.5zM959.0 313.6H990.8V333.7H959.0zM959.0 293.8H969.8V313.9H959.0zM864.5 273.9H875.3V294.1H864.5zM864.5 254.1H875.3V274.2H864.5zM864.5 234.2H875.3V254.4H864.5zM864.5 214.4H875.3V234.5H864.5z"/>
<path fill="#900000" d="M570.5 412.8H581.3V432.9H570.5zM623.0 373.1H633.8V393.3H623.0zM728.0 353.3H738.8V373.4H728.0zM843.5 333.4H854.3V353.6H843.5z"/>
<path fill="#920000" d="M980.0 412.8H990.8V432.9H980.0zM581.0 393.0H591.8V413.1H581.0zM633.5 373.1H644.3V393.3H633.5zM738.5 353.3H749.3V373.4H738.5z"/>
<path fill="#940000" d="M749.0 353.3H759.8V373.4H749.0zM948.5 353.3H959.3V373.4H948.5zM854.0 333.4H864.8V353.6H854.0zM948.5 333.4H959.3V353.6H948.5zM948.5 313.6H959.3V333.7H948.5zM948.5 293.8H959.3V313.9H948.5zM948.5 273.9H959.3V294.1H948.5zM948.5 254.1H959.3V274.2H948.5zM948.5 234.2H959.3V254.4H948.5zM938.0 194.6H948.8V214.7H938.0z"/>
<path fill="#960000" d="M644.0 373.1H654.8V393.3H644.0zM759.5 353.3H770.3V373.4H759.5z"/>
<path fill="#980000" d="M990.5 432.6H1001.3V452.8H990.5zM654.5 373.1H665.3V393.3H654.5zM948.5 373.1H959.3V393.3H948.5zM770.0 353.3H780.8V373.4H770.0z"/>
<path fill="#9a0000" d="M665.0 373.1H675.8V393.3H665.0zM780.5 353.3H791.3V373.4H780.5zM917.0 174.7H927.8V194.9H917.0z"/>
<path fill="#9c0000" d="M1011.5 492.2H1022.3V512.3H1011.5zM1001.0 452.5H1011.8V472.6H1001.0zM959.0 393.0H969.8V413.1H959.0zM675.5 373.1H686.3V393.3H675.5zM791.0 353.3H801.8V373.4H791.0z"/>
<path fill="#9e0000" d="M686.0 373.1H696.8V393.3H686.0zM801.5 353.3H812.3V373.4H801.5zM938.0 353.3H948.8V373.4H938.0zM938.0 333.4H948.8V353.6H938.0zM938.0 313.6H948.8V333.7H938.0zM938.0 293.8H948.8V313.9H938.0zM938.0 273.9H948.8V294.1H938.0zM938.0 254.1H948.8V274.2H938.0zM938.0 234.2H948.8V254.4H938.0zM938.0 214.4H948.8V234.5H938.0z"/>
<path fill="#a00000" d="M591.5 393.0H602.3V413.1H591.5zM696.5 373.1H707.3V393.3H696.5zM812.0 353.3H822.8V373.4H812.0zM864.5 293.8H875.3V313.9H864.5z"/>
<path fill="#a20000" d="M560.0 452.5H570.8V472.6H560.0zM969.5 412.8H980.3V432.9H969.5zM602.0 393.0H612.8V413.1H602.0zM707.0 373.1H717.8V393.3H707.0zM822.5 353.3H833.3V373.4H822.5z"/>
<path fill="#a40000" d="M570.5 432.6H581.3V452.8H570.5zM612.5 393.0H623.3V413.1H612.5zM717.5 373.1H738.8V393.3H717.5zM833.0 353.3H843.8V373.4H833.0z"/>
<path fill="#a60000" d="M980.0 432.6H990.8V452.8H980.0zM581.0 412.8H591.8V432.9H581.0zM623.0 393.0H644.3V413.1H623.0zM738.5 373.1H749.3V393.3H738.5zM843.5 353.3H864.8V373.4H843.5z"/>
<path fill="#a80000" d="M644.0 393.0H654.8V413.1H644.0zM749.0 373.1H770.3V393.3H749.0zM927.5 333.4H938.3V353.6H927.5zM927.5 313.6H938.3V333.7H927.5zM927.5 293.8H938.3V313.9H927.5zM927.5 273.9H938.3V294.1H927.5zM927.5 254.1H938.3V274.2H927.5zM927.5 234.2H938.3V254.4H927.5zM927.5 214.4H938.3V234.5H927.5zM927.5 194.6H938.3V214.7H927.5z"/>
<path fill="#aa0000" d="M1011.5 512.0H1022.3V532.1H1011.5zM990.5 452.5H1001.3V472.6H990.5zM654.5 393.0H686.3V413.1H654.5zM948.5 393.0H959.3V413.1H948.5zM770.0 373.1H791.3V393.3H770.0zM938.0 373.1H948.8V393.3H938.0z"/>
<path fill="#ac0000" d="M560.0 512.0H875.3V532.1H560.0zM927.5 512.0H1011.8V532.1H927.5zM560.0 492.2H875.3V512.3H560.0zM927.5 492.2H1011.8V512.3H927.5zM560.0 472.3H875.3V492.5H560.0zM927.5 472.3H1011.8V492.5H927.5zM570.5 452.5H875.3V472.6H570.5zM927.5 452.5H990.8V472.6H927.5zM581.0 432.6H875.3V452.8H581.0zM927.5 432.6H980.3V452.8H927.5zM591.5 412.8H875.3V432.9H591.5zM927.5 412.8H969.8V432.9H927.5zM686.0 393.0H875.3V413.1H686.0zM927.5 393.0H948.8V413.1H927.5zM791.0 373.1H875.3V393.3H791.0zM927.5 373.1H938.3V393.3H927.5zM864.5 353.3H875.3V373.4H864.5zM927.5 353.3H938.3V373.4H927.5zM864.5 333.4H875.3V353.6H864.5zM864.5 313.6H875.3V333.7H864.5z"/>
<path fill="#b40000" d="M917.0 273.9H927.8V294.1H917.0zM917.0 254.1H927.8V274.2H917.0zM917.0 234.2H927.8V254.4H917.0zM917.0 214.4H927.8V234.5H917.0zM917.0 194.6H927.8V214.7H917.0z"/>
<path fill="#ba0000" d="M906.5 174.7H917.3V194.9H906.5zM906.5 154.9H917.3V175.0H906.5z"/>
<path fill="#bc0000" d="M906.5 273.9H917.3V294.1H906.5zM906.5 254.1H917.3V274.2H906.5zM906.5 234.2H917.3V254.4H906.5zM906.5 214.4H917.3V234.5H906.5zM906.5 194.6H917.3V214.7H906.5z"/>
<path fill="#c80000" d="M318.5 512.0H329.3V532.1H318.5zM549.5 512.0H560.3V532.1H549.5zM318.5 492.2H329.3V512.3H318.5zM549.5 492.2H560.3V512.3H549.5zM318.5 472.3H329.3V492.5H318.5zM549.5 472.3H560.3V492.5H549.5z"/>
<path fill="#cc0000" d="M329.0 512.0H549.8V532.1H329.0zM329.0 492.2H549.8V512.3H329.0zM329.0 472.3H549.8V492.5H329.0z"/>
<path fill="#d00000" d="M875.0 273.9H906.8V294.1H875.0zM875.0 254.1H906.8V274.2H875.0zM875.0 234.2H906.8V254.4H875.0zM875.0 214.4H906.8V234.5H875.0zM875.0 194.6H906.8V214.7H875.0zM875.0 174.7H906.8V194.9H875.0zM875.0 154.9H906.8V175.0H875.0z"/>
<path fill="#d20000" d="M917.0 293.8H927.8V313.9H917.0z"/>
<path fill="#d60000" d="M917.0 512.0H927.8V532.1H917.0zM917.0 492.2H927.8V512.3H917.0zM917.0 472.3H927.8V492.5H917.0zM917.0 452.5H927.8V472.6H917.0zM917.0 432.6H927.8V452.8H917.0zM917.0 412.8H927.8V432.9H917.0zM917.0 393.0H927.8V413.1H917.0zM917.0 373.1H927.8V393.3H917.0zM917.0 353.3H927.8V373.4H917.0zM917.0 333.4H927.8V353.6H917.0zM917.0 313.6H927.8V333.7H917.0z"/>
<path fill="#fa0000" d="M875.0 293.8H917.3V313.9H875.0z"/>
<path fill="#fe0000" d="M875.0 512.0H917.3V532.1H875.0zM875.0 492.2H917.3V512.3H875.0zM875.0 472.3H917.3V492.5H875.0zM875.0 452.5H917.3V472.6H875.0zM875.0 432.6H917.3V452.8H875.0zM875.0 412.8H917.3V432.9H875.0zM875.0 393.0H917.3V413.1H875.0zM875.0 373.1H917.3V393.3H875.0zM875.0 353.3H917.3V373.4H875.0zM875.0 333.4H917.3V353.6H875.0zM875.0 313.6H917.3V333.7H875.0z"/>
</g>
<g filter="url(#b3)">
<polygon points="867.0,551.7 867.0,148.9 887.6,148.9 914.9,158.8 919.1,551.7" fill="#f00" fill-opacity="0.35" />
<polygon points="867.0,551.7 867.0,283.8 923.3,283.8 925.4,551.7" fill="#f00" fill-opacity="0.3" />
<polygon points="317.4,506.0 317.4,465.4 539.0,465.4 539.0,506.0" fill="#f00" fill-opacity="0.35" />
<polygon points="593.6,43.8 593.6,-23.7 858.2,-23.7 858.2,43.8" fill="#f00" fill-opacity="0.13" />
</g>
<g style="mix-blend-mode:screen" filter="url(#b3)"><polygon points="867.6,551.7 867.6,283.8 908.6,283.8 917.0,551.7" fill="#002600"/></g>
<g style="mix-blend-mode:screen">
<polyline points="243.3,512.0 329.0,481.6" fill="none" stroke="#8c6000" stroke-width="2" stroke-linecap="round" stroke-linejoin="round" />
<polyline points="329.0,481.6 402.5,455.5" fill="none" stroke="#704d00" stroke-width="2.2" stroke-linecap="round" stroke-linejoin="round" />
<polyline points="402.5,455.5 455.0,436.8" fill="none" stroke="#d28f00" stroke-width="3" stroke-linecap="round" stroke-linejoin="round" />
<polyline points="455.0,436.8 591.5,388.6" fill="none" stroke="#ffbf00" stroke-width="3.8" stroke-linecap="round" stroke-linejoin="round" />
<polyline points="591.5,388.6 866.6,384.8" fill="none" stroke="#c48600" stroke-width="2.6" stroke-linecap="round" stroke-linejoin="round" stroke-dasharray="16 3 30 4 11 2 42 3 8 3 25 5"/>
<polyline points="866.6,384.4 906.5,395.9 1001.0,433.6" fill="none" stroke="#ffbf00" stroke-width="3.8" stroke-linecap="round" stroke-linejoin="round" />
<polyline points="862.4,383.4 896.0,390.6" fill="none" stroke="#ffbf00" stroke-width="5.5" stroke-linecap="round" stroke-linejoin="round" />
<polyline points="1001.0,433.6 1064.0,459.4" fill="none" stroke="#704d00" stroke-width="2.2" stroke-linecap="round" stroke-linejoin="round" />
<polyline points="1064.0,459.4 1133.3,488.2" fill="none" stroke="#463000" stroke-width="2" stroke-linecap="round" stroke-linejoin="round" />
<polyline points="564.2,419.5 591.5,419.5" fill="none" stroke="#fcac00" stroke-width="3.4" stroke-linecap="round" stroke-linejoin="round" />
<polyline points="591.5,419.5 885.5,417.2 893.9,424.7" fill="none" stroke="#8c6000" stroke-width="2.4" stroke-linecap="round" stroke-linejoin="round" stroke-dasharray="12 3 20 5 9 3 33 4 14 6"/>
<polyline points="318.5,479.3 413.0,462.4" fill="none" stroke="#c48600" stroke-width="2.5" stroke-linecap="round" stroke-linejoin="round" />
<polyline points="413.0,462.4 564.2,419.5" fill="none" stroke="#4f3600" stroke-width="2" stroke-linecap="round" stroke-linejoin="round" />
<polyline points="318.5,497.7 539.0,497.7" fill="none" stroke="#c48600" stroke-width="5.5" stroke-linecap="round" stroke-linejoin="round" />
<polyline points="539.0,497.7 875.0,497.7" fill="none" stroke="#463000" stroke-width="3" stroke-linecap="round" stroke-linejoin="round" stroke-dasharray="9 5 15 7"/>
<polyline points="318.5,478.7 518.0,480.3" fill="none" stroke="#8c6000" stroke-width="4" stroke-linecap="round" stroke-linejoin="round" />
<polyline points="518.0,482.2 906.5,485.2" fill="none" stroke="#704d00" stroke-width="3" stroke-linecap="round" stroke-linejoin="round" stroke-dasharray="7 4 13 5 5 3 18 6"/>
<circle cx="470.8" cy="478.7" r="6.5" fill="#ff9000"/>
<polyline points="470.8,492.2 470.8,464.4" fill="none" stroke="#e09900" stroke-width="3" stroke-linecap="round" stroke-linejoin="round" />
<polyline points="243.3,512.0 276.5,464.8" fill="none" stroke="#fcac00" stroke-width="3.2" stroke-linecap="round" stroke-linejoin="round" />
<polyline points="276.5,464.8 371.0,330.5" fill="none" stroke="#543900" stroke-width="2" stroke-linecap="round" stroke-linejoin="round" />
<polyline points="299.6,452.5 333.2,414.8" fill="none" stroke="#463000" stroke-width="2" stroke-linecap="round" stroke-linejoin="round" />
<polyline points="347.9,400.9 396.2,347.3" fill="none" stroke="#4f3600" stroke-width="2" stroke-linecap="round" stroke-linejoin="round" />
<polyline points="345.8,439.6 400.4,400.9" fill="none" stroke="#543900" stroke-width="2" stroke-linecap="round" stroke-linejoin="round" />
<polyline points="413.0,391.0 455.0,360.2" fill="none" stroke="#9a6900" stroke-width="2.2" stroke-linecap="round" stroke-linejoin="round" />
<polyline points="467.6,351.3 488.6,336.4" fill="none" stroke="#e09900" stroke-width="2.6" stroke-linecap="round" stroke-linejoin="round" />
<polyline points="551.6,293.8 591.5,265.0" fill="none" stroke="#c48600" stroke-width="2.6" stroke-linecap="round" stroke-linejoin="round" />
<polyline points="503.3,327.5 539.0,301.7" fill="none" stroke="#624300" stroke-width="2" stroke-linecap="round" stroke-linejoin="round" />
<polyline points="251.3,506.0 316.4,488.2" fill="none" stroke="#a87300" stroke-width="2.2" stroke-linecap="round" stroke-linejoin="round" />
<polyline points="463.4,20.0 507.5,109.2" fill="none" stroke="#a87300" stroke-width="2.4" stroke-linecap="round" stroke-linejoin="round" />
<polyline points="507.5,109.2 566.3,238.8" fill="none" stroke="#e09900" stroke-width="2.6" stroke-linecap="round" stroke-linejoin="round" />
<polyline points="566.3,238.8 583.1,273.9" fill="none" stroke="#8c6000" stroke-width="2.2" stroke-linecap="round" stroke-linejoin="round" />
<polyline points="511.7,18.0 518.0,29.1 583.1,135.0" fill="none" stroke="#ffb600" stroke-width="3.0" stroke-linecap="round" stroke-linejoin="round" />
<polyline points="509.2,113.8 543.2,67.0" fill="none" stroke="#543900" stroke-width="2" stroke-linecap="round" stroke-linejoin="round" />
<polyline points="543.2,67.0 566.3,37.8 589.4,18.0" fill="none" stroke="#ffbf00" stroke-width="3.4" stroke-linecap="round" stroke-linejoin="round" />
<polyline points="492.8,46.0 509.6,18.0" fill="none" stroke="#b67c00" stroke-width="2.5" stroke-linecap="round" stroke-linejoin="round" />
<polyline points="446.6,65.6 459.2,89.4" fill="none" stroke="#8c6000" stroke-width="2" stroke-linecap="round" stroke-linejoin="round" />
<polyline points="484.4,264.0 494.9,246.1" fill="none" stroke="#a87300" stroke-width="2" stroke-linecap="round" stroke-linejoin="round" />
<polyline points="321.2,328.5 321.9,311.6 327.9,303.3 339.3,298.5 354.2,301.7 371.0,311.6 392.0,327.5" fill="none" stroke="#ffbf00" stroke-width="4.6" stroke-linecap="round" stroke-linejoin="round" />
<polyline points="392.0,327.5 413.6,341.6" fill="none" stroke="#ffbf00" stroke-width="6" stroke-linecap="round" stroke-linejoin="round" />
<polyline points="415.1,343.4 427.7,370.3" fill="none" stroke="#8c6000" stroke-width="2.4" stroke-linecap="round" stroke-linejoin="round" />
<polyline points="434.0,385.0 449.8,423.1" fill="none" stroke="#b67c00" stroke-width="2.4" stroke-linecap="round" stroke-linejoin="round" />
<polyline points="194.6,328.9 219.8,328.9" fill="none" stroke="#110b00" stroke-width="2.5" stroke-linecap="round" stroke-linejoin="round" />
<polyline points="219.8,328.9 234.5,328.9" fill="none" stroke="#543900" stroke-width="4" stroke-linecap="round" stroke-linejoin="round" />
<polyline points="234.5,328.9 245.0,328.9" fill="none" stroke="#3e2a00" stroke-width="4" stroke-linecap="round" stroke-linejoin="round" />
<polyline points="243.9,328.9 257.6,328.9" fill="none" stroke="#c48600" stroke-width="4.2" stroke-linecap="round" stroke-linejoin="round" />
<polyline points="257.6,328.9 321.2,328.9" fill="none" stroke="#ffbf00" stroke-width="5.6" stroke-linecap="round" stroke-linejoin="round" />
<polyline points="242.9,255.1 261.8,255.1" fill="none" stroke="#543900" stroke-width="3.5" stroke-linecap="round" stroke-linejoin="round" />
<polyline points="261.8,255.1 321.6,255.1" fill="none" stroke="#a87300" stroke-width="4" stroke-linecap="round" stroke-linejoin="round" />
<polyline points="245.0,145.0 318.5,145.0" fill="none" stroke="#241900" stroke-width="3" stroke-linecap="round" stroke-linejoin="round" />
<polyline points="245.0,373.1 308.0,373.1" fill="none" stroke="#160f00" stroke-width="3" stroke-linecap="round" stroke-linejoin="round" />
<polyline points="1130.2,328.5 1169.0,328.5" fill="none" stroke="#ffbf00" stroke-width="3.4" stroke-linecap="round" stroke-linejoin="round" />
<polyline points="1169.0,328.5 1178.5,328.5" fill="none" stroke="#a87300" stroke-width="3.4" stroke-linecap="round" stroke-linejoin="round" />
<polyline points="1178.5,328.5 1193.1,328.5" fill="none" stroke="#624300" stroke-width="3.4" stroke-linecap="round" stroke-linejoin="round" />
<polyline points="1130.2,328.5 1130.2,343.4" fill="none" stroke="#704d00" stroke-width="2" stroke-linecap="round" stroke-linejoin="round" />
<polyline points="1131.2,71.4 1171.1,71.4" fill="none" stroke="#221700" stroke-width="2.5" stroke-linecap="round" stroke-linejoin="round" />
<polyline points="1131.2,144.6 1175.3,144.6" fill="none" stroke="#271b00" stroke-width="2.5" stroke-linecap="round" stroke-linejoin="round" />
<polyline points="1131.2,255.5 1171.1,255.5" fill="none" stroke="#221700" stroke-width="2.5" stroke-linecap="round" stroke-linejoin="round" />
<polyline points="983.1,339.0 989.0,343.8 1000.6,339.8 1012.1,341.8 1023.7,338.2" fill="none" stroke="#ffbf00" stroke-width="8.5" stroke-linecap="round" stroke-linejoin="round" />
<polyline points="986.3,336.4 994.7,345.3 1005.2,337.4 1017.8,344.2" fill="none" stroke="#fcac00" stroke-width="4" stroke-linecap="round" stroke-linejoin="round" />
<polyline points="1023.7,338.2 1035.2,339.8 1041.1,332.8 1052.7,331.3" fill="none" stroke="#ffbf00" stroke-width="6.5" stroke-linecap="round" stroke-linejoin="round" />
<polyline points="1052.7,331.3 1064.2,324.3 1073.0,328.3 1081.6,323.1 1090.2,321.3" fill="none" stroke="#ffbf00" stroke-width="4.6" stroke-linecap="round" stroke-linejoin="round" />
<polyline points="1047.2,327.5 1057.7,334.4 1070.3,321.5 1078.7,328.5" fill="none" stroke="#e09900" stroke-width="2.5" stroke-linecap="round" stroke-linejoin="round" />
<polyline points="1090.2,321.3 1096.1,329.5 1104.7,332.4 1112.1,344.0" fill="none" stroke="#ffbf00" stroke-width="4" stroke-linecap="round" stroke-linejoin="round" />
<polyline points="912.8,284.6 983.1,336.8" fill="none" stroke="#c48600" stroke-width="2.6" stroke-linecap="round" stroke-linejoin="round" />
<polyline points="992.6,346.3 1028.3,373.1" fill="none" stroke="#624300" stroke-width="2" stroke-linecap="round" stroke-linejoin="round" />
<polyline points="884.7,18.0 965.3,146.2" fill="none" stroke="#ffb600" stroke-width="2.9" stroke-linecap="round" stroke-linejoin="round" />
<polyline points="880.5,151.9 950.0,18.0" fill="none" stroke="#ffb600" stroke-width="2.9" stroke-linecap="round" stroke-linejoin="round" />
<polyline points="950.0,18.0 1011.5,146.0" fill="none" stroke="#a87300" stroke-width="2.5" stroke-linecap="round" stroke-linejoin="round" />
<polyline points="937.0,146.0 988.4,18.0" fill="none" stroke="#543900" stroke-width="2" stroke-linecap="round" stroke-linejoin="round" />
<polyline points="988.4,18.0 1043.0,135.0" fill="none" stroke="#322200" stroke-width="2" stroke-linecap="round" stroke-linejoin="round" />
<polyline points="1013.6,135.0 1055.6,25.9" fill="none" stroke="#2a1d00" stroke-width="2" stroke-linecap="round" stroke-linejoin="round" />
<polyline points="1055.6,25.9 1095.5,125.1" fill="none" stroke="#221700" stroke-width="2" stroke-linecap="round" stroke-linejoin="round" />
<polyline points="1011.5,145.0 1053.5,146.9" fill="none" stroke="#382600" stroke-width="6" stroke-linecap="round" stroke-linejoin="round" />
<polyline points="1103.9,375.9 1164.8,461.0" fill="none" stroke="#765000" stroke-width="2.6" stroke-linecap="round" stroke-linejoin="round" />
<polyline points="1164.8,461.0 1196.3,506.0" fill="none" stroke="#8c6000" stroke-width="2.6" stroke-linecap="round" stroke-linejoin="round" />
<polyline points="1087.1,375.1 1095.5,389.0" fill="none" stroke="#a87300" stroke-width="2.4" stroke-linecap="round" stroke-linejoin="round" />
<polyline points="1118.6,375.1 1124.9,390.0" fill="none" stroke="#a87300" stroke-width="2.4" stroke-linecap="round" stroke-linejoin="round" />
<polyline points="192.7,516.0 192.7,488.2" fill="none" stroke="#8c6000" stroke-width="2.2" stroke-linecap="round" stroke-linejoin="round" />
<polyline points="192.7,488.2 192.7,428.7" fill="none" stroke="#543900" stroke-width="2" stroke-linecap="round" stroke-linejoin="round" />
<polyline points="192.7,428.7 192.7,313.6" fill="none" stroke="#160f00" stroke-width="2" stroke-linecap="round" stroke-linejoin="round" />
<polyline points="1187.9,516.0 1187.9,12.0" fill="none" stroke="#140d00" stroke-width="2" stroke-linecap="round" stroke-linejoin="round" />
</g>
</g></g>
<linearGradient id="sg" x1="0" y1="0" x2="0" y2="1"><stop offset="0" stop-color="#ff5000" stop-opacity="0.75"/><stop offset="0.45" stop-color="#ff6000" stop-opacity="0.85"/><stop offset="1" stop-color="#ff7000" stop-opacity="1"/></linearGradient>
<linearGradient id="sg2" x1="0" y1="0" x2="0" y2="1"><stop offset="0" stop-color="#f00" stop-opacity="0.03"/><stop offset="0.5" stop-color="#f00" stop-opacity="0.5"/><stop offset="1" stop-color="#f00" stop-opacity="1"/></linearGradient>
<g clip-path="url(#c2)"><g filter="url(#sp2)">
<rect x="90.0" y="607.0" width="1214.0" height="594.0" fill="#000"/>
<g filter="url(#bg)">
<path fill="#020000" d="M235.6 1131.2H283.7V1151.3H235.6zM1215.3 1131.2H1239.5V1151.3H1215.3zM235.6 1111.5H299.6V1131.5H235.6zM1215.3 1111.5H1239.5V1131.5H1215.3zM235.6 1091.7H307.6V1111.8H235.6zM1207.3 1091.7H1239.5V1111.8H1207.3zM235.6 1072.0H331.5V1092.0H235.6zM1207.3 1072.0H1239.5V1092.0H1207.3zM235.6 1052.2H347.4V1072.3H235.6zM1207.3 1052.2H1239.5V1072.3H1207.3zM235.6 1032.4H355.4V1052.5H235.6zM1207.3 1032.4H1239.5V1052.5H1207.3zM235.6 1012.7H363.3V1032.7H235.6zM1199.3 1012.7H1239.5V1032.7H1199.3zM235.6 992.9H371.3V1013.0H235.6zM1199.3 992.9H1239.5V1013.0H1199.3zM235.6 973.2H379.2V993.2H235.6zM1199.3 973.2H1239.5V993.2H1199.3zM235.6 953.4H387.2V973.5H235.6zM1191.4 953.4H1239.5V973.5H1191.4zM235.6 933.6H395.2V953.7H235.6zM1191.4 933.6H1239.5V953.7H1191.4zM235.6 913.9H403.1V933.9H235.6zM1183.4 913.9H1239.5V933.9H1183.4zM235.6 894.1H419.1V914.2H235.6zM1175.5 894.1H1239.5V914.2H1175.5zM235.6 874.4H435.0V894.4H235.6zM1175.5 874.4H1239.5V894.4H1175.5zM235.6 854.6H450.9V874.7H235.6zM1167.5 854.6H1239.5V874.7H1167.5zM235.6 834.8H466.9V854.9H235.6zM1159.5 834.8H1239.5V854.9H1159.5zM235.6 815.1H482.8V835.1H235.6zM1151.6 815.1H1239.5V835.1H1151.6zM235.6 795.3H498.7V815.4H235.6zM1143.6 795.3H1239.5V815.4H1143.6zM235.6 775.6H506.7V795.6H235.6zM1135.6 775.6H1239.5V795.6H1135.6zM235.6 755.8H514.7V775.9H235.6zM1127.7 755.8H1239.5V775.9H1127.7zM235.6 736.0H522.6V756.1H235.6zM1119.7 736.0H1239.5V756.1H1119.7zM235.6 716.3H538.5V736.3H235.6zM1111.7 716.3H1239.5V736.3H1111.7zM235.6 696.5H546.5V716.6H235.6zM1103.8 696.5H1239.5V716.6H1103.8zM235.6 676.8H554.5V696.8H235.6zM1095.8 676.8H1239.5V696.8H1095.8zM235.6 657.0H562.4V677.1H235.6zM1095.8 657.0H1239.5V677.1H1095.8zM235.6 637.2H570.4V657.3H235.6zM1087.8 637.2H1239.5V657.3H1087.8z"/>
<path fill="#040000" d="M1207.3 1111.5H1215.6V1131.5H1207.3zM307.3 1091.7H315.5V1111.8H307.3zM331.2 1072.0H339.4V1092.0H331.2zM347.1 1052.2H355.4V1072.3H347.1zM355.1 1032.4H363.3V1052.5H355.1zM1199.3 1032.4H1207.6V1052.5H1199.3zM363.0 1012.7H371.3V1032.7H363.0zM371.0 992.9H379.2V1013.0H371.0zM378.9 973.2H387.2V993.2H378.9zM1191.4 973.2H1199.6V993.2H1191.4zM386.9 953.4H395.2V973.5H386.9zM1183.4 953.4H1191.7V973.5H1183.4zM394.9 933.6H403.1V953.7H394.9zM1183.4 933.6H1191.7V953.7H1183.4zM402.8 913.9H419.1V933.9H402.8zM1175.5 913.9H1183.7V933.9H1175.5zM418.8 894.1H435.0V914.2H418.8zM1167.5 894.1H1175.8V914.2H1167.5zM434.7 874.4H450.9V894.4H434.7zM1159.5 874.4H1175.8V894.4H1159.5zM450.6 854.6H466.9V874.7H450.6zM1151.6 854.6H1167.8V874.7H1151.6zM466.6 834.8H482.8V854.9H466.6zM1143.6 834.8H1159.8V854.9H1143.6zM482.5 815.1H498.7V835.1H482.5zM1135.6 815.1H1151.9V835.1H1135.6zM498.4 795.3H506.7V815.4H498.4zM1127.7 795.3H1143.9V815.4H1127.7zM506.4 775.6H514.7V795.6H506.4zM1127.7 775.6H1135.9V795.6H1127.7zM514.4 755.8H530.6V775.9H514.4zM1119.7 755.8H1128.0V775.9H1119.7zM522.3 736.0H538.5V756.1H522.3zM1111.7 736.0H1120.0V756.1H1111.7zM538.2 716.3H546.5V736.3H538.2zM1103.8 716.3H1112.0V736.3H1103.8zM546.2 696.5H554.5V716.6H546.2zM1095.8 696.5H1104.1V716.6H1095.8zM554.2 676.8H570.4V696.8H554.2zM562.1 657.0H570.4V677.1H562.1zM1087.8 657.0H1096.1V677.1H1087.8zM570.1 637.2H578.4V657.3H570.1z"/>
<path fill="#060000" d="M283.4 1131.2H291.6V1151.3H283.4zM1207.3 1131.2H1215.6V1151.3H1207.3zM299.3 1111.5H307.6V1131.5H299.3zM315.2 1091.7H323.5V1111.8H315.2zM355.1 1052.2H363.3V1072.3H355.1zM1199.3 1052.2H1207.6V1072.3H1199.3zM363.0 1032.4H371.3V1052.5H363.0zM371.0 1012.7H379.2V1032.7H371.0zM378.9 992.9H387.2V1013.0H378.9zM1191.4 992.9H1199.6V1013.0H1191.4zM386.9 973.2H395.2V993.2H386.9zM1183.4 973.2H1191.7V993.2H1183.4zM394.9 953.4H411.1V973.5H394.9zM402.8 933.6H427.0V953.7H402.8zM1175.5 933.6H1183.7V953.7H1175.5zM418.8 913.9H443.0V933.9H418.8zM1167.5 913.9H1175.8V933.9H1167.5zM434.7 894.1H458.9V914.2H434.7zM1159.5 894.1H1167.8V914.2H1159.5zM450.6 874.4H474.8V894.4H450.6zM1151.6 874.4H1159.8V894.4H1151.6zM466.6 854.6H490.8V874.7H466.6zM1143.6 854.6H1151.9V874.7H1143.6zM482.5 834.8H498.7V854.9H482.5zM1135.6 834.8H1143.9V854.9H1135.6zM498.4 815.1H506.7V835.1H498.4zM1127.7 815.1H1135.9V835.1H1127.7zM506.4 795.3H514.7V815.4H506.4zM514.4 775.6H530.6V795.6H514.4zM1119.7 775.6H1128.0V795.6H1119.7zM530.3 755.8H538.5V775.9H530.3zM1111.7 755.8H1120.0V775.9H1111.7zM538.2 736.0H546.5V756.1H538.2zM1103.8 736.0H1112.0V756.1H1103.8zM546.2 716.3H554.5V736.3H546.2zM1095.8 716.3H1104.1V736.3H1095.8zM554.2 696.5H570.4V716.6H554.2zM1087.8 676.8H1096.1V696.8H1087.8zM570.1 657.0H578.4V677.1H570.1zM578.1 637.2H586.3V657.3H578.1zM1079.9 637.2H1088.1V657.3H1079.9z"/>
<path fill="#080000" d="M291.3 1131.2H299.6V1151.3H291.3zM339.1 1072.0H347.4V1092.0H339.1zM1199.3 1072.0H1207.6V1092.0H1199.3zM363.0 1052.2H371.3V1072.3H363.0zM371.0 1032.4H379.2V1052.5H371.0zM1191.4 1032.4H1199.6V1052.5H1191.4zM378.9 1012.7H387.2V1032.7H378.9zM1191.4 1012.7H1199.6V1032.7H1191.4zM386.9 992.9H395.2V1013.0H386.9zM1183.4 992.9H1191.7V1013.0H1183.4zM394.9 973.2H411.1V993.2H394.9zM410.8 953.4H427.0V973.5H410.8zM1175.5 953.4H1183.7V973.5H1175.5zM426.7 933.6H443.0V953.7H426.7zM1167.5 933.6H1175.8V953.7H1167.5zM442.7 913.9H458.9V933.9H442.7zM1159.5 913.9H1167.8V933.9H1159.5zM458.6 894.1H474.8V914.2H458.6zM1151.6 894.1H1159.8V914.2H1151.6zM474.5 874.4H490.8V894.4H474.5zM1143.6 874.4H1151.9V894.4H1143.6zM490.5 854.6H498.7V874.7H490.5zM1135.6 854.6H1143.9V874.7H1135.6zM498.4 834.8H506.7V854.9H498.4zM1127.7 834.8H1135.9V854.9H1127.7zM506.4 815.1H522.6V835.1H506.4zM1119.7 815.1H1128.0V835.1H1119.7zM514.4 795.3H530.6V815.4H514.4zM1119.7 795.3H1128.0V815.4H1119.7zM530.3 775.6H538.5V795.6H530.3zM1111.7 775.6H1120.0V795.6H1111.7zM538.2 755.8H546.5V775.9H538.2zM1103.8 755.8H1112.0V775.9H1103.8zM546.2 736.0H562.4V756.1H546.2zM1095.8 736.0H1104.1V756.1H1095.8zM554.2 716.3H570.4V736.3H554.2zM570.1 696.5H578.4V716.6H570.1zM1087.8 696.5H1096.1V716.6H1087.8zM570.1 676.8H578.4V696.8H570.1zM578.1 657.0H586.3V677.1H578.1zM1079.9 657.0H1088.1V677.1H1079.9z"/>
<path fill="#0a0000" d="M307.3 1111.5H315.5V1131.5H307.3zM1199.3 1111.5H1207.6V1131.5H1199.3zM323.2 1091.7H331.5V1111.8H323.2zM1199.3 1091.7H1207.6V1111.8H1199.3zM347.1 1072.0H355.4V1092.0H347.1zM1191.4 1052.2H1199.6V1072.3H1191.4zM378.9 1032.4H387.2V1052.5H378.9zM386.9 1012.7H395.2V1032.7H386.9zM1183.4 1012.7H1191.7V1032.7H1183.4zM394.9 992.9H411.1V1013.0H394.9zM410.8 973.2H427.0V993.2H410.8zM1175.5 973.2H1183.7V993.2H1175.5zM426.7 953.4H443.0V973.5H426.7zM1167.5 953.4H1175.8V973.5H1167.5zM442.7 933.6H458.9V953.7H442.7zM1159.5 933.6H1167.8V953.7H1159.5zM458.6 913.9H474.8V933.9H458.6zM1151.6 913.9H1159.8V933.9H1151.6zM474.5 894.1H490.8V914.2H474.5zM1143.6 894.1H1151.9V914.2H1143.6zM490.5 874.4H498.7V894.4H490.5zM1135.6 874.4H1143.9V894.4H1135.6zM498.4 854.6H514.7V874.7H498.4zM1127.7 854.6H1135.9V874.7H1127.7zM506.4 834.8H522.6V854.9H506.4zM1119.7 834.8H1128.0V854.9H1119.7zM522.3 815.1H530.6V835.1H522.3zM1111.7 815.1H1120.0V835.1H1111.7zM530.3 795.3H538.5V815.4H530.3zM1111.7 795.3H1120.0V815.4H1111.7zM538.2 775.6H554.5V795.6H538.2zM1103.8 775.6H1112.0V795.6H1103.8zM546.2 755.8H562.4V775.9H546.2zM1095.8 755.8H1104.1V775.9H1095.8zM562.1 736.0H570.4V756.1H562.1zM570.1 716.3H578.4V736.3H570.1zM1087.8 716.3H1096.1V736.3H1087.8zM578.1 676.8H586.3V696.8H578.1zM1079.9 676.8H1088.1V696.8H1079.9zM586.0 637.2H594.3V657.3H586.0zM1071.9 637.2H1080.2V657.3H1071.9z"/>
<path fill="#0c0000" d="M140.0 1151.0H299.6V1171.1H140.0zM1207.3 1151.0H1255.4V1171.1H1207.3zM299.3 1131.2H307.6V1151.3H299.3zM1199.3 1131.2H1207.6V1151.3H1199.3zM331.2 1091.7H339.4V1111.8H331.2zM1191.4 1072.0H1199.6V1092.0H1191.4zM371.0 1052.2H379.2V1072.3H371.0zM386.9 1032.4H395.2V1052.5H386.9zM1183.4 1032.4H1191.7V1052.5H1183.4zM394.9 1012.7H411.1V1032.7H394.9zM1175.5 1012.7H1183.7V1032.7H1175.5zM410.8 992.9H427.0V1013.0H410.8zM1175.5 992.9H1183.7V1013.0H1175.5zM426.7 973.2H443.0V993.2H426.7zM1167.5 973.2H1175.8V993.2H1167.5zM442.7 953.4H458.9V973.5H442.7zM1159.5 953.4H1167.8V973.5H1159.5zM458.6 933.6H474.8V953.7H458.6zM1151.6 933.6H1159.8V953.7H1151.6zM474.5 913.9H490.8V933.9H474.5zM1143.6 913.9H1151.9V933.9H1143.6zM490.5 894.1H506.7V914.2H490.5zM1135.6 894.1H1143.9V914.2H1135.6zM498.4 874.4H514.7V894.4H498.4zM1127.7 874.4H1135.9V894.4H1127.7zM514.4 854.6H522.6V874.7H514.4zM1119.7 854.6H1128.0V874.7H1119.7zM522.3 834.8H530.6V854.9H522.3zM1111.7 834.8H1120.0V854.9H1111.7zM530.3 815.1H546.5V835.1H530.3zM1103.8 815.1H1112.0V835.1H1103.8zM538.2 795.3H554.5V815.4H538.2zM1103.8 795.3H1112.0V815.4H1103.8zM554.2 775.6H562.4V795.6H554.2zM1095.8 775.6H1104.1V795.6H1095.8zM562.1 755.8H570.4V775.9H562.1zM1087.8 755.8H1096.1V775.9H1087.8zM570.1 736.0H578.4V756.1H570.1zM1087.8 736.0H1096.1V756.1H1087.8zM578.1 696.5H586.3V716.6H578.1zM1079.9 696.5H1088.1V716.6H1079.9zM586.0 676.8H594.3V696.8H586.0zM586.0 657.0H594.3V677.1H586.0zM1071.9 657.0H1080.2V677.1H1071.9zM594.0 637.2H602.3V657.3H594.0z"/>
<path fill="#0e0000" d="M1199.3 1151.0H1207.6V1171.1H1199.3zM315.2 1111.5H323.5V1131.5H315.2zM1191.4 1091.7H1199.6V1111.8H1191.4zM355.1 1072.0H363.3V1092.0H355.1zM1183.4 1052.2H1191.7V1072.3H1183.4zM394.9 1032.4H403.1V1052.5H394.9zM1175.5 1032.4H1183.7V1052.5H1175.5zM410.8 1012.7H427.0V1032.7H410.8zM426.7 992.9H450.9V1013.0H426.7zM1167.5 992.9H1175.8V1013.0H1167.5zM442.7 973.2H466.9V993.2H442.7zM1159.5 973.2H1167.8V993.2H1159.5zM458.6 953.4H482.8V973.5H458.6zM1151.6 953.4H1159.8V973.5H1151.6zM474.5 933.6H490.8V953.7H474.5zM1143.6 933.6H1151.9V953.7H1143.6zM490.5 913.9H506.7V933.9H490.5zM1135.6 913.9H1143.9V933.9H1135.6zM506.4 894.1H514.7V914.2H506.4zM1127.7 894.1H1135.9V914.2H1127.7zM514.4 874.4H522.6V894.4H514.4zM1119.7 874.4H1128.0V894.4H1119.7zM522.3 854.6H530.6V874.7H522.3zM1111.7 854.6H1120.0V874.7H1111.7zM530.3 834.8H546.5V854.9H530.3zM1103.8 834.8H1112.0V854.9H1103.8zM546.2 815.1H554.5V835.1H546.2zM554.2 795.3H562.4V815.4H554.2zM1095.8 795.3H1104.1V815.4H1095.8zM562.1 775.6H570.4V795.6H562.1zM1087.8 775.6H1096.1V795.6H1087.8zM570.1 755.8H578.4V775.9H570.1zM1079.9 736.0H1088.1V756.1H1079.9zM578.1 716.3H586.3V736.3H578.1zM1079.9 716.3H1088.1V736.3H1079.9zM586.0 696.5H594.3V716.6H586.0zM1071.9 676.8H1080.2V696.8H1071.9zM594.0 657.0H602.3V677.1H594.0zM1063.9 637.2H1072.2V657.3H1063.9z"/>
<path fill="#100000" d="M299.3 1151.0H307.6V1171.1H299.3zM307.3 1131.2H315.5V1151.3H307.3zM323.2 1111.5H331.5V1131.5H323.2zM1191.4 1111.5H1199.6V1131.5H1191.4zM339.1 1091.7H347.4V1111.8H339.1zM1183.4 1072.0H1191.7V1092.0H1183.4zM378.9 1052.2H387.2V1072.3H378.9zM1175.5 1052.2H1183.7V1072.3H1175.5zM402.8 1032.4H411.1V1052.5H402.8zM426.7 1012.7H435.0V1032.7H426.7zM1167.5 1012.7H1175.8V1032.7H1167.5zM450.6 992.9H458.9V1013.0H450.6zM1159.5 992.9H1167.8V1013.0H1159.5zM466.6 973.2H482.8V993.2H466.6zM1151.6 973.2H1159.8V993.2H1151.6zM482.5 953.4H498.7V973.5H482.5zM1143.6 953.4H1151.9V973.5H1143.6zM490.5 933.6H506.7V953.7H490.5zM1135.6 933.6H1143.9V953.7H1135.6zM506.4 913.9H514.7V933.9H506.4zM1127.7 913.9H1135.9V933.9H1127.7zM514.4 894.1H522.6V914.2H514.4zM1119.7 894.1H1128.0V914.2H1119.7zM522.3 874.4H538.5V894.4H522.3zM1111.7 874.4H1120.0V894.4H1111.7zM530.3 854.6H546.5V874.7H530.3zM1103.8 854.6H1112.0V874.7H1103.8zM546.2 834.8H554.5V854.9H546.2zM1095.8 834.8H1104.1V854.9H1095.8zM554.2 815.1H562.4V835.1H554.2zM1095.8 815.1H1104.1V835.1H1095.8zM562.1 795.3H570.4V815.4H562.1zM1087.8 795.3H1096.1V815.4H1087.8zM570.1 775.6H578.4V795.6H570.1zM1079.9 755.8H1088.1V775.9H1079.9zM578.1 736.0H586.3V756.1H578.1zM586.0 716.3H594.3V736.3H586.0zM1071.9 696.5H1080.2V716.6H1071.9zM594.0 676.8H602.3V696.8H594.0zM1063.9 657.0H1072.2V677.1H1063.9z"/>
<path fill="#120000" d="M307.3 1151.0H315.5V1171.1H307.3zM315.2 1131.2H323.5V1151.3H315.2zM1191.4 1131.2H1199.6V1151.3H1191.4zM1183.4 1111.5H1191.7V1131.5H1183.4zM1183.4 1091.7H1191.7V1111.8H1183.4zM363.0 1072.0H371.3V1092.0H363.0zM1175.5 1072.0H1183.7V1092.0H1175.5zM1167.5 1052.2H1175.8V1072.3H1167.5zM1159.5 1032.4H1175.8V1052.5H1159.5zM1151.6 1012.7H1167.8V1032.7H1151.6zM1143.6 992.9H1159.8V1013.0H1143.6zM1135.6 973.2H1151.9V993.2H1135.6zM498.4 953.4H506.7V973.5H498.4zM1127.7 953.4H1143.9V973.5H1127.7zM506.4 933.6H514.7V953.7H506.4zM1127.7 933.6H1135.9V953.7H1127.7zM514.4 913.9H530.6V933.9H514.4zM1119.7 913.9H1128.0V933.9H1119.7zM522.3 894.1H538.5V914.2H522.3zM1111.7 894.1H1120.0V914.2H1111.7zM538.2 874.4H546.5V894.4H538.2zM1103.8 874.4H1112.0V894.4H1103.8zM546.2 854.6H554.5V874.7H546.2zM1095.8 854.6H1104.1V874.7H1095.8zM554.2 834.8H570.4V854.9H554.2zM562.1 815.1H570.4V835.1H562.1zM1087.8 815.1H1096.1V835.1H1087.8zM570.1 795.3H578.4V815.4H570.1zM578.1 775.6H586.3V795.6H578.1zM1079.9 775.6H1088.1V795.6H1079.9zM578.1 755.8H586.3V775.9H578.1zM586.0 736.0H594.3V756.1H586.0zM1071.9 736.0H1080.2V756.1H1071.9zM1071.9 716.3H1080.2V736.3H1071.9zM594.0 696.5H602.3V716.6H594.0zM602.0 676.8H610.2V696.8H602.0zM1063.9 676.8H1072.2V696.8H1063.9zM602.0 657.0H610.2V677.1H602.0zM602.0 637.2H610.2V657.3H602.0zM1056.0 637.2H1064.2V657.3H1056.0z"/>
<path fill="#140000" d="M315.2 1151.0H323.5V1171.1H315.2zM1191.4 1151.0H1199.6V1171.1H1191.4zM323.2 1131.2H331.5V1151.3H323.2zM1183.4 1131.2H1191.7V1151.3H1183.4zM331.2 1111.5H339.4V1131.5H331.2zM347.1 1091.7H355.4V1111.8H347.1zM1175.5 1091.7H1183.7V1111.8H1175.5zM1167.5 1072.0H1175.8V1092.0H1167.5zM386.9 1052.2H395.2V1072.3H386.9zM1159.5 1052.2H1167.8V1072.3H1159.5zM410.8 1032.4H419.1V1052.5H410.8zM1151.6 1032.4H1159.8V1052.5H1151.6zM1143.6 1012.7H1151.9V1032.7H1143.6zM1135.6 992.9H1143.9V1013.0H1135.6zM1127.7 973.2H1135.9V993.2H1127.7zM514.4 933.6H530.6V953.7H514.4zM1119.7 933.6H1128.0V953.7H1119.7zM530.3 913.9H538.5V933.9H530.3zM1111.7 913.9H1120.0V933.9H1111.7zM538.2 894.1H546.5V914.2H538.2zM1103.8 894.1H1112.0V914.2H1103.8zM546.2 874.4H554.5V894.4H546.2zM1095.8 874.4H1104.1V894.4H1095.8zM554.2 854.6H570.4V874.7H554.2zM1087.8 834.8H1096.1V854.9H1087.8zM570.1 815.1H578.4V835.1H570.1zM578.1 795.3H586.3V815.4H578.1zM1079.9 795.3H1088.1V815.4H1079.9zM586.0 755.8H594.3V775.9H586.0zM1071.9 755.8H1080.2V775.9H1071.9zM594.0 716.3H602.3V736.3H594.0zM1063.9 716.3H1072.2V736.3H1063.9zM602.0 696.5H610.2V716.6H602.0zM1063.9 696.5H1072.2V716.6H1063.9zM1056.0 657.0H1064.2V677.1H1056.0zM1040.0 637.2H1056.3V657.3H1040.0z"/>
<path fill="#160000" d="M323.2 1151.0H331.5V1171.1H323.2zM1183.4 1151.0H1191.7V1171.1H1183.4zM339.1 1111.5H347.4V1131.5H339.1zM1175.5 1111.5H1183.7V1131.5H1175.5zM1167.5 1091.7H1175.8V1111.8H1167.5zM371.0 1072.0H379.2V1092.0H371.0zM1159.5 1072.0H1167.8V1092.0H1159.5zM1151.6 1052.2H1159.8V1072.3H1151.6zM1143.6 1032.4H1151.9V1052.5H1143.6zM434.7 1012.7H443.0V1032.7H434.7zM1135.6 1012.7H1143.9V1032.7H1135.6zM458.6 992.9H466.9V1013.0H458.6zM1127.7 992.9H1135.9V1013.0H1127.7zM482.5 973.2H490.8V993.2H482.5zM1119.7 973.2H1128.0V993.2H1119.7zM506.4 953.4H514.7V973.5H506.4zM1119.7 953.4H1128.0V973.5H1119.7zM530.3 933.6H538.5V953.7H530.3zM1111.7 933.6H1120.0V953.7H1111.7zM538.2 913.9H546.5V933.9H538.2zM1103.8 913.9H1112.0V933.9H1103.8zM546.2 894.1H562.4V914.2H546.2zM1095.8 894.1H1104.1V914.2H1095.8zM554.2 874.4H570.4V894.4H554.2zM570.1 854.6H578.4V874.7H570.1zM1087.8 854.6H1096.1V874.7H1087.8zM570.1 834.8H578.4V854.9H570.1zM578.1 815.1H586.3V835.1H578.1zM1079.9 815.1H1088.1V835.1H1079.9zM586.0 775.6H594.3V795.6H586.0zM1071.9 775.6H1080.2V795.6H1071.9zM594.0 755.8H602.3V775.9H594.0zM594.0 736.0H602.3V756.1H594.0zM1063.9 736.0H1072.2V756.1H1063.9zM602.0 716.3H610.2V736.3H602.0zM1056.0 696.5H1064.2V716.6H1056.0zM1056.0 676.8H1064.2V696.8H1056.0zM1040.0 657.0H1056.3V677.1H1040.0z"/>
<path fill="#180000" d="M331.2 1151.0H347.4V1171.1H331.2zM331.2 1131.2H347.4V1151.3H331.2zM1175.5 1131.2H1183.7V1151.3H1175.5zM1167.5 1111.5H1175.8V1131.5H1167.5zM355.1 1091.7H363.3V1111.8H355.1zM1159.5 1091.7H1167.8V1111.8H1159.5zM1151.6 1072.0H1159.8V1092.0H1151.6zM394.9 1052.2H403.1V1072.3H394.9zM1143.6 1052.2H1151.9V1072.3H1143.6zM1135.6 1032.4H1143.9V1052.5H1135.6zM1127.7 1012.7H1135.9V1032.7H1127.7zM1119.7 992.9H1128.0V1013.0H1119.7zM1111.7 973.2H1120.0V993.2H1111.7zM1111.7 953.4H1120.0V973.5H1111.7zM1103.8 933.6H1112.0V953.7H1103.8zM546.2 913.9H562.4V933.9H546.2zM1095.8 913.9H1104.1V933.9H1095.8zM562.1 894.1H570.4V914.2H562.1zM570.1 874.4H578.4V894.4H570.1zM1087.8 874.4H1096.1V894.4H1087.8zM578.1 834.8H586.3V854.9H578.1zM1079.9 834.8H1088.1V854.9H1079.9zM586.0 795.3H594.3V815.4H586.0zM1071.9 795.3H1080.2V815.4H1071.9zM594.0 775.6H602.3V795.6H594.0zM1063.9 755.8H1072.2V775.9H1063.9zM602.0 736.0H610.2V756.1H602.0zM1056.0 716.3H1064.2V736.3H1056.0zM609.9 696.5H618.2V716.6H609.9zM1032.1 696.5H1056.3V716.6H1032.1zM609.9 676.8H618.2V696.8H609.9zM1032.1 676.8H1056.3V696.8H1032.1zM609.9 657.0H618.2V677.1H609.9zM1032.1 657.0H1040.3V677.1H1032.1zM609.9 637.2H618.2V657.3H609.9zM1032.1 637.2H1040.3V657.3H1032.1z"/>
<path fill="#1a0000" d="M347.1 1151.0H355.4V1171.1H347.1zM1175.5 1151.0H1183.7V1171.1H1175.5zM347.1 1131.2H355.4V1151.3H347.1zM1167.5 1131.2H1175.8V1151.3H1167.5zM347.1 1111.5H355.4V1131.5H347.1zM1159.5 1111.5H1167.8V1131.5H1159.5zM363.0 1091.7H371.3V1111.8H363.0zM1151.6 1091.7H1159.8V1111.8H1151.6zM378.9 1072.0H387.2V1092.0H378.9zM418.8 1032.4H427.0V1052.5H418.8zM442.7 1012.7H450.9V1032.7H442.7zM1111.7 992.9H1120.0V1013.0H1111.7zM1103.8 953.4H1112.0V973.5H1103.8zM538.2 933.6H546.5V953.7H538.2zM1095.8 933.6H1104.1V953.7H1095.8zM562.1 913.9H570.4V933.9H562.1zM1087.8 913.9H1096.1V933.9H1087.8zM570.1 894.1H578.4V914.2H570.1zM1087.8 894.1H1096.1V914.2H1087.8zM578.1 854.6H586.3V874.7H578.1zM1079.9 854.6H1088.1V874.7H1079.9zM586.0 834.8H594.3V854.9H586.0zM586.0 815.1H594.3V835.1H586.0zM1071.9 815.1H1080.2V835.1H1071.9zM594.0 795.3H602.3V815.4H594.0zM1063.9 775.6H1072.2V795.6H1063.9zM602.0 755.8H610.2V775.9H602.0zM609.9 736.0H618.2V756.1H609.9zM1056.0 736.0H1064.2V756.1H1056.0zM609.9 716.3H618.2V736.3H609.9zM1032.1 716.3H1056.3V736.3H1032.1z"/>
<path fill="#1c0000" d="M355.1 1151.0H363.3V1171.1H355.1zM1167.5 1151.0H1175.8V1171.1H1167.5zM355.1 1131.2H363.3V1151.3H355.1zM355.1 1111.5H363.3V1131.5H355.1zM402.8 1052.2H411.1V1072.3H402.8zM1119.7 1012.7H1128.0V1032.7H1119.7zM466.6 992.9H474.8V1013.0H466.6zM490.5 973.2H498.7V993.2H490.5zM1095.8 973.2H1112.0V993.2H1095.8zM514.4 953.4H522.6V973.5H514.4zM1079.9 953.4H1104.1V973.5H1079.9zM1063.9 933.6H1096.1V953.7H1063.9zM1048.0 913.9H1088.1V933.9H1048.0zM578.1 894.1H618.2V914.2H578.1zM1032.1 894.1H1088.1V914.2H1032.1zM578.1 874.4H777.5V894.4H578.1zM1032.1 874.4H1088.1V894.4H1032.1zM586.0 854.6H777.5V874.7H586.0zM1032.1 854.6H1080.2V874.7H1032.1zM594.0 834.8H777.5V854.9H594.0zM1032.1 834.8H1080.2V854.9H1032.1zM594.0 815.1H777.5V835.1H594.0zM1032.1 815.1H1072.2V835.1H1032.1zM602.0 795.3H777.5V815.4H602.0zM1032.1 795.3H1072.2V815.4H1032.1zM602.0 775.6H777.5V795.6H602.0zM1032.1 775.6H1064.2V795.6H1032.1zM609.9 755.8H777.5V775.9H609.9zM1032.1 755.8H1064.2V775.9H1032.1zM617.9 736.0H777.5V756.1H617.9zM1032.1 736.0H1056.3V756.1H1032.1zM617.9 716.3H777.5V736.3H617.9zM617.9 696.5H777.5V716.6H617.9zM617.9 676.8H777.5V696.8H617.9zM617.9 657.0H777.5V677.1H617.9zM617.9 637.2H777.5V657.3H617.9z"/>
<path fill="#1e0000" d="M363.0 1151.0H371.3V1171.1H363.0zM363.0 1131.2H371.3V1151.3H363.0zM363.0 1111.5H371.3V1131.5H363.0zM371.0 1091.7H379.2V1111.8H371.0zM386.9 1072.0H395.2V1092.0H386.9zM426.7 1032.4H435.0V1052.5H426.7zM617.9 894.1H642.1V914.2H617.9z"/>
<path fill="#200000" d="M371.0 1151.0H379.2V1171.1H371.0zM371.0 1131.2H379.2V1151.3H371.0zM1159.5 1131.2H1167.8V1151.3H1159.5zM371.0 1111.5H379.2V1131.5H371.0zM378.9 1091.7H387.2V1111.8H378.9zM450.6 1012.7H458.9V1032.7H450.6zM570.1 913.9H578.4V933.9H570.1zM641.8 894.1H666.0V914.2H641.8zM1024.1 874.4H1032.4V894.4H1024.1zM1024.1 854.6H1032.4V874.7H1024.1zM1024.1 834.8H1032.4V854.9H1024.1zM1024.1 815.1H1032.4V835.1H1024.1zM1024.1 795.3H1032.4V815.4H1024.1zM1024.1 775.6H1032.4V795.6H1024.1zM1024.1 755.8H1032.4V775.9H1024.1zM1024.1 736.0H1032.4V756.1H1024.1zM1024.1 716.3H1032.4V736.3H1024.1zM1024.1 696.5H1032.4V716.6H1024.1zM1024.1 676.8H1032.4V696.8H1024.1zM1024.1 657.0H1032.4V677.1H1024.1zM1024.1 637.2H1032.4V657.3H1024.1z"/>
<path fill="#220000" d="M378.9 1151.0H387.2V1171.1H378.9zM378.9 1131.2H387.2V1151.3H378.9zM378.9 1111.5H387.2V1131.5H378.9zM394.9 1072.0H403.1V1092.0H394.9zM410.8 1052.2H419.1V1072.3H410.8zM474.5 992.9H482.8V1013.0H474.5zM1103.8 992.9H1112.0V1013.0H1103.8zM498.4 973.2H506.7V993.2H498.4zM522.3 953.4H530.6V973.5H522.3zM546.2 933.6H554.5V953.7H546.2zM665.7 894.1H689.9V914.2H665.7z"/>
<path fill="#240000" d="M386.9 1151.0H403.1V1171.1H386.9zM386.9 1131.2H403.1V1151.3H386.9zM386.9 1111.5H403.1V1131.5H386.9zM386.9 1091.7H403.1V1111.8H386.9zM434.7 1032.4H443.0V1052.5H434.7zM1127.7 1032.4H1135.9V1052.5H1127.7zM1087.8 973.2H1096.1V993.2H1087.8zM1071.9 953.4H1080.2V973.5H1071.9zM1056.0 933.6H1064.2V953.7H1056.0zM1040.0 913.9H1048.3V933.9H1040.0zM689.6 894.1H713.8V914.2H689.6z"/>
<path fill="#260000" d="M402.8 1151.0H411.1V1171.1H402.8zM402.8 1131.2H411.1V1151.3H402.8zM402.8 1111.5H411.1V1131.5H402.8zM402.8 1091.7H411.1V1111.8H402.8zM402.8 1072.0H411.1V1092.0H402.8zM418.8 1052.2H427.0V1072.3H418.8zM458.6 1012.7H466.9V1032.7H458.6zM578.1 913.9H586.3V933.9H578.1zM713.5 894.1H737.7V914.2H713.5zM1024.1 894.1H1032.4V914.2H1024.1zM928.5 637.2H936.8V657.3H928.5z"/>
<path fill="#280000" d="M410.8 1151.0H419.1V1171.1H410.8zM410.8 1131.2H419.1V1151.3H410.8zM410.8 1111.5H419.1V1131.5H410.8zM410.8 1091.7H419.1V1111.8H410.8zM410.8 1072.0H419.1V1092.0H410.8zM1143.6 1072.0H1151.9V1092.0H1143.6zM482.5 992.9H490.8V1013.0H482.5zM554.2 933.6H562.4V953.7H554.2zM737.4 894.1H761.6V914.2H737.4z"/>
<path fill="#2a0000" d="M418.8 1151.0H427.0V1171.1H418.8zM418.8 1131.2H427.0V1151.3H418.8zM418.8 1111.5H427.0V1131.5H418.8zM418.8 1091.7H427.0V1111.8H418.8zM418.8 1072.0H427.0V1092.0H418.8zM426.7 1052.2H435.0V1072.3H426.7zM442.7 1032.4H450.9V1052.5H442.7zM1111.7 1012.7H1120.0V1032.7H1111.7zM506.4 973.2H514.7V993.2H506.4zM530.3 953.4H538.5V973.5H530.3zM761.3 894.1H777.5V914.2H761.3zM1008.2 874.4H1024.4V894.4H1008.2zM1000.2 854.6H1024.4V874.7H1000.2zM984.3 834.8H1024.4V854.9H984.3zM960.4 815.1H1024.4V835.1H960.4zM936.5 795.3H1024.4V815.4H936.5zM936.5 775.6H1024.4V795.6H936.5zM936.5 755.8H1024.4V775.9H936.5zM936.5 736.0H1024.4V756.1H936.5zM936.5 716.3H1024.4V736.3H936.5zM936.5 696.5H1024.4V716.6H936.5zM936.5 676.8H1024.4V696.8H936.5zM936.5 657.0H1024.4V677.1H936.5zM936.5 637.2H1024.4V657.3H936.5z"/>
<path fill="#2c0000" d="M426.7 1151.0H435.0V1171.1H426.7zM426.7 1131.2H435.0V1151.3H426.7zM426.7 1111.5H435.0V1131.5H426.7zM426.7 1091.7H435.0V1111.8H426.7zM426.7 1072.0H435.0V1092.0H426.7zM434.7 1052.2H443.0V1072.3H434.7zM1135.6 1052.2H1143.9V1072.3H1135.6zM466.6 1012.7H474.8V1032.7H466.6zM586.0 913.9H594.3V933.9H586.0zM992.3 854.6H1000.5V874.7H992.3z"/>
<path fill="#2e0000" d="M434.7 1151.0H443.0V1171.1H434.7zM434.7 1131.2H443.0V1151.3H434.7zM434.7 1111.5H443.0V1131.5H434.7zM1151.6 1111.5H1159.8V1131.5H1151.6zM434.7 1091.7H443.0V1111.8H434.7zM434.7 1072.0H443.0V1092.0H434.7zM450.6 1032.4H458.9V1052.5H450.6zM490.5 992.9H498.7V1013.0H490.5zM1095.8 992.9H1104.1V1013.0H1095.8zM562.1 933.6H570.4V953.7H562.1zM976.3 834.8H984.6V854.9H976.3zM952.4 815.1H960.7V835.1H952.4zM777.2 795.3H897.0V815.4H777.2zM920.6 795.3H928.8V815.4H920.6zM777.2 775.6H897.0V795.6H777.2zM920.6 775.6H928.8V795.6H920.6zM777.2 755.8H897.0V775.9H777.2zM920.6 755.8H928.8V775.9H920.6zM777.2 736.0H897.0V756.1H777.2zM920.6 736.0H928.8V756.1H920.6zM777.2 716.3H897.0V736.3H777.2zM920.6 716.3H928.8V736.3H920.6zM777.2 696.5H897.0V716.6H777.2zM920.6 696.5H928.8V716.6H920.6zM777.2 676.8H897.0V696.8H777.2zM920.6 676.8H928.8V696.8H920.6zM777.2 657.0H897.0V677.1H777.2zM920.6 657.0H928.8V677.1H920.6zM777.2 637.2H897.0V657.3H777.2zM920.6 637.2H928.8V657.3H920.6z"/>
<path fill="#300000" d="M442.7 1151.0H458.9V1171.1H442.7zM442.7 1131.2H458.9V1151.3H442.7zM442.7 1111.5H458.9V1131.5H442.7zM442.7 1091.7H458.9V1111.8H442.7zM442.7 1072.0H458.9V1092.0H442.7zM442.7 1052.2H458.9V1072.3H442.7zM1119.7 1032.4H1128.0V1052.5H1119.7zM514.4 973.2H522.6V993.2H514.4zM1079.9 973.2H1088.1V993.2H1079.9zM538.2 953.4H546.5V973.5H538.2zM1063.9 953.4H1072.2V973.5H1063.9zM1048.0 933.6H1056.3V953.7H1048.0zM594.0 913.9H610.2V933.9H594.0zM1032.1 913.9H1040.3V933.9H1032.1z"/>
<path fill="#320000" d="M458.6 1151.0H466.9V1171.1H458.6zM458.6 1131.2H466.9V1151.3H458.6zM458.6 1111.5H466.9V1131.5H458.6zM458.6 1091.7H466.9V1111.8H458.6zM458.6 1072.0H466.9V1092.0H458.6zM458.6 1052.2H466.9V1072.3H458.6zM458.6 1032.4H466.9V1052.5H458.6zM474.5 1012.7H482.8V1032.7H474.5zM609.9 913.9H634.1V933.9H609.9zM1016.1 894.1H1024.4V914.2H1016.1zM785.2 815.1H793.4V835.1H785.2zM809.1 815.1H817.3V835.1H809.1z"/>
<path fill="#340000" d="M466.6 1151.0H474.8V1171.1H466.6zM1159.5 1151.0H1167.8V1171.1H1159.5zM466.6 1131.2H474.8V1151.3H466.6zM466.6 1111.5H474.8V1131.5H466.6zM466.6 1091.7H474.8V1111.8H466.6zM466.6 1072.0H474.8V1092.0H466.6zM466.6 1052.2H474.8V1072.3H466.6zM466.6 1032.4H474.8V1052.5H466.6zM1103.8 1012.7H1112.0V1032.7H1103.8zM498.4 992.9H506.7V1013.0H498.4zM570.1 933.6H578.4V953.7H570.1zM633.8 913.9H666.0V933.9H633.8zM1000.2 874.4H1008.5V894.4H1000.2zM968.4 834.8H976.6V854.9H968.4zM777.2 815.1H785.5V835.1H777.2zM793.1 815.1H809.4V835.1H793.1zM817.0 815.1H897.0V835.1H817.0zM920.6 815.1H928.8V835.1H920.6zM944.5 815.1H952.7V835.1H944.5z"/>
<path fill="#360000" d="M474.5 1151.0H482.8V1171.1H474.5zM474.5 1131.2H482.8V1151.3H474.5zM474.5 1111.5H482.8V1131.5H474.5zM474.5 1091.7H482.8V1111.8H474.5zM474.5 1072.0H482.8V1092.0H474.5zM474.5 1052.2H482.8V1072.3H474.5zM474.5 1032.4H482.8V1052.5H474.5zM482.5 1012.7H490.8V1032.7H482.5zM522.3 973.2H530.6V993.2H522.3zM546.2 953.4H554.5V973.5H546.2zM665.7 913.9H697.8V933.9H665.7zM984.3 854.6H992.6V874.7H984.3z"/>
<path fill="#380000" d="M482.5 1151.0H490.8V1171.1H482.5zM482.5 1131.2H490.8V1151.3H482.5zM482.5 1111.5H490.8V1131.5H482.5zM482.5 1091.7H490.8V1111.8H482.5zM482.5 1072.0H490.8V1092.0H482.5zM482.5 1052.2H490.8V1072.3H482.5zM1127.7 1052.2H1135.9V1072.3H1127.7zM482.5 1032.4H490.8V1052.5H482.5zM490.5 1012.7H498.7V1032.7H490.5zM1087.8 992.9H1096.1V1013.0H1087.8zM1071.9 973.2H1080.2V993.2H1071.9zM1056.0 953.4H1064.2V973.5H1056.0zM578.1 933.6H586.3V953.7H578.1zM1040.0 933.6H1048.3V953.7H1040.0zM697.5 913.9H737.7V933.9H697.5zM1024.1 913.9H1032.4V933.9H1024.1zM960.4 834.8H968.7V854.9H960.4zM936.5 815.1H944.8V835.1H936.5z"/>
<path fill="#3a0000" d="M490.5 1151.0H506.7V1171.1H490.5zM490.5 1131.2H506.7V1151.3H490.5zM490.5 1111.5H506.7V1131.5H490.5zM490.5 1091.7H506.7V1111.8H490.5zM1143.6 1091.7H1151.9V1111.8H1143.6zM490.5 1072.0H506.7V1092.0H490.5zM490.5 1052.2H506.7V1072.3H490.5zM490.5 1032.4H506.7V1052.5H490.5zM1111.7 1032.4H1120.0V1052.5H1111.7zM498.4 1012.7H506.7V1032.7H498.4zM506.4 992.9H514.7V1013.0H506.4zM530.3 973.2H538.5V993.2H530.3zM554.2 953.4H562.4V973.5H554.2zM737.4 913.9H777.5V933.9H737.4zM1008.2 894.1H1016.4V914.2H1008.2zM896.7 795.3H904.9V815.4H896.7zM896.7 775.6H904.9V795.6H896.7zM896.7 755.8H904.9V775.9H896.7zM896.7 736.0H904.9V756.1H896.7zM896.7 716.3H904.9V736.3H896.7zM896.7 696.5H904.9V716.6H896.7zM896.7 676.8H904.9V696.8H896.7zM896.7 657.0H904.9V677.1H896.7zM896.7 637.2H904.9V657.3H896.7z"/>
<path fill="#3c0000" d="M506.4 1131.2H514.7V1151.3H506.4zM506.4 1111.5H514.7V1131.5H506.4zM506.4 1091.7H514.7V1111.8H506.4zM506.4 1072.0H514.7V1092.0H506.4zM1135.6 1072.0H1143.9V1092.0H1135.6zM506.4 1052.2H514.7V1072.3H506.4zM506.4 1032.4H514.7V1052.5H506.4zM506.4 1012.7H514.7V1032.7H506.4zM1095.8 1012.7H1104.1V1032.7H1095.8zM586.0 933.6H594.3V953.7H586.0zM992.3 874.4H1000.5V894.4H992.3zM976.3 854.6H984.6V874.7H976.3z"/>
<path fill="#3e0000" d="M1151.6 1131.2H1159.8V1151.3H1151.6zM514.4 1111.5H522.6V1131.5H514.4zM514.4 1091.7H522.6V1111.8H514.4zM514.4 1072.0H522.6V1092.0H514.4zM514.4 1052.2H522.6V1072.3H514.4zM1119.7 1052.2H1128.0V1072.3H1119.7zM514.4 1032.4H522.6V1052.5H514.4zM514.4 1012.7H522.6V1032.7H514.4zM514.4 992.9H522.6V1013.0H514.4zM1079.9 992.9H1088.1V1013.0H1079.9zM538.2 973.2H546.5V993.2H538.2zM1063.9 973.2H1072.2V993.2H1063.9zM562.1 953.4H578.4V973.5H562.1zM1048.0 953.4H1056.3V973.5H1048.0zM594.0 933.6H658.0V953.7H594.0zM1032.1 933.6H1040.3V953.7H1032.1zM1016.1 913.9H1024.4V933.9H1016.1z"/>
<path fill="#400000" d="M1103.8 1151.0H1159.8V1171.1H1103.8zM1103.8 1131.2H1151.9V1151.3H1103.8zM1095.8 1111.5H1151.9V1131.5H1095.8zM522.3 1091.7H530.6V1111.8H522.3zM1095.8 1091.7H1143.9V1111.8H1095.8zM522.3 1072.0H546.5V1092.0H522.3zM1087.8 1072.0H1135.9V1092.0H1087.8zM522.3 1052.2H578.4V1072.3H522.3zM1079.9 1052.2H1120.0V1072.3H1079.9zM522.3 1032.4H602.3V1052.5H522.3zM1071.9 1032.4H1112.0V1052.5H1071.9zM522.3 1012.7H634.1V1032.7H522.3zM1063.9 1012.7H1096.1V1032.7H1063.9zM522.3 992.9H674.0V1013.0H522.3zM1056.0 992.9H1080.2V1013.0H1056.0zM546.2 973.2H713.8V993.2H546.2zM1048.0 973.2H1064.2V993.2H1048.0zM578.1 953.4H769.5V973.5H578.1zM1032.1 953.4H1048.3V973.5H1032.1zM657.7 933.6H777.5V953.7H657.7zM1024.1 933.6H1032.4V953.7H1024.1zM785.2 834.8H793.4V854.9H785.2zM809.1 834.8H817.3V854.9H809.1zM896.7 815.1H904.9V835.1H896.7z"/>
<path fill="#420000" d="M1095.8 1131.2H1104.1V1151.3H1095.8zM1087.8 1091.7H1096.1V1111.8H1087.8zM546.2 1072.0H554.5V1092.0H546.2zM1079.9 1072.0H1088.1V1092.0H1079.9zM1071.9 1052.2H1080.2V1072.3H1071.9zM602.0 1032.4H610.2V1052.5H602.0zM1063.9 1032.4H1072.2V1052.5H1063.9zM1056.0 1012.7H1064.2V1032.7H1056.0zM1048.0 992.9H1056.3V1013.0H1048.0zM1040.0 973.2H1048.3V993.2H1040.0zM769.2 953.4H777.5V973.5H769.2z"/>
<path fill="#440000" d="M522.3 1111.5H530.6V1131.5H522.3zM530.3 1091.7H538.5V1111.8H530.3zM578.1 1052.2H586.3V1072.3H578.1zM633.8 1012.7H642.1V1032.7H633.8zM673.7 992.9H681.9V1013.0H673.7zM713.5 973.2H721.7V993.2H713.5zM952.4 834.8H960.7V854.9H952.4z"/>
<path fill="#460000" d="M514.4 1131.2H522.6V1151.3H514.4zM721.4 973.2H729.7V993.2H721.4zM777.2 834.8H785.5V854.9H777.2zM793.1 834.8H809.4V854.9H793.1zM817.0 834.8H897.0V854.9H817.0zM920.6 834.8H928.8V854.9H920.6z"/>
<path fill="#480000" d="M506.4 1151.0H514.7V1171.1H506.4zM554.2 1072.0H562.4V1092.0H554.2zM609.9 1032.4H618.2V1052.5H609.9zM641.8 1012.7H650.1V1032.7H641.8zM681.6 992.9H689.9V1013.0H681.6zM968.4 854.6H976.6V874.7H968.4z"/>
<path fill="#4a0000" d="M586.0 1052.2H594.3V1072.3H586.0zM729.4 973.2H737.7V993.2H729.4zM1000.2 894.1H1008.5V914.2H1000.2zM984.3 874.4H992.6V894.4H984.3z"/>
<path fill="#4c0000" d="M562.1 1072.0H570.4V1092.0H562.1zM649.8 1012.7H658.0V1032.7H649.8zM689.6 992.9H697.8V1013.0H689.6zM737.4 973.2H745.6V993.2H737.4zM928.5 657.0H936.8V677.1H928.5z"/>
<path fill="#4e0000" d="M538.2 1091.7H546.5V1111.8H538.2zM617.9 1032.4H626.2V1052.5H617.9zM745.3 973.2H753.6V993.2H745.3zM1024.1 953.4H1032.4V973.5H1024.1zM944.5 834.8H952.7V854.9H944.5z"/>
<path fill="#500000" d="M570.1 1072.0H578.4V1092.0H570.1zM594.0 1052.2H602.3V1072.3H594.0zM657.7 1012.7H666.0V1032.7H657.7zM697.5 992.9H705.8V1013.0H697.5zM753.3 973.2H761.6V993.2H753.3zM1016.1 933.6H1024.4V953.7H1016.1z"/>
<path fill="#520000" d="M546.2 1091.7H554.5V1111.8H546.2zM602.0 1052.2H610.2V1072.3H602.0zM1063.9 1052.2H1072.2V1072.3H1063.9zM625.9 1032.4H634.1V1052.5H625.9zM1056.0 1032.4H1064.2V1052.5H1056.0zM665.7 1012.7H674.0V1032.7H665.7zM1048.0 1012.7H1056.3V1032.7H1048.0zM705.5 992.9H713.8V1013.0H705.5zM1040.0 992.9H1048.3V1013.0H1040.0zM761.3 973.2H777.5V993.2H761.3zM1032.1 973.2H1040.3V993.2H1032.1z"/>
<path fill="#540000" d="M514.4 1151.0H522.6V1171.1H514.4zM1095.8 1151.0H1104.1V1171.1H1095.8zM522.3 1131.2H530.6V1151.3H522.3zM530.3 1111.5H538.5V1131.5H530.3zM1087.8 1111.5H1096.1V1131.5H1087.8zM554.2 1091.7H562.4V1111.8H554.2zM1079.9 1091.7H1088.1V1111.8H1079.9zM578.1 1072.0H586.3V1092.0H578.1zM1071.9 1072.0H1080.2V1092.0H1071.9zM633.8 1032.4H642.1V1052.5H633.8zM673.7 1012.7H681.9V1032.7H673.7zM713.5 992.9H729.7V1013.0H713.5zM785.2 854.6H793.4V874.7H785.2zM809.1 854.6H817.3V874.7H809.1zM896.7 834.8H904.9V854.9H896.7z"/>
<path fill="#560000" d="M522.3 1151.0H650.1V1171.1H522.3zM1079.9 1151.0H1096.1V1171.1H1079.9zM530.3 1131.2H658.0V1151.3H530.3zM1071.9 1131.2H1096.1V1151.3H1071.9zM538.2 1111.5H658.0V1131.5H538.2zM1071.9 1111.5H1088.1V1131.5H1071.9zM562.1 1091.7H674.0V1111.8H562.1zM1071.9 1091.7H1080.2V1111.8H1071.9zM586.0 1072.0H705.8V1092.0H586.0zM609.9 1052.2H737.7V1072.3H609.9zM1056.0 1052.2H1064.2V1072.3H1056.0zM641.8 1032.4H761.6V1052.5H641.8zM1048.0 1032.4H1056.3V1052.5H1048.0zM681.6 1012.7H777.5V1032.7H681.6zM1040.0 1012.7H1048.3V1032.7H1040.0zM729.4 992.9H777.5V1013.0H729.4zM1032.1 992.9H1040.3V1013.0H1032.1z"/>
<path fill="#580000" d="M1063.9 1072.0H1072.2V1092.0H1063.9z"/>
<path fill="#5a0000" d="M673.7 1091.7H681.9V1111.8H673.7zM705.5 1072.0H713.8V1092.0H705.5zM737.4 1052.2H745.6V1072.3H737.4zM976.3 874.4H984.6V894.4H976.3zM960.4 854.6H968.7V874.7H960.4zM936.5 834.8H944.8V854.9H936.5z"/>
<path fill="#5c0000" d="M657.7 1111.5H666.0V1131.5H657.7zM1008.2 913.9H1016.4V933.9H1008.2zM992.3 894.1H1000.5V914.2H992.3zM904.6 795.3H920.9V815.4H904.6zM904.6 775.6H920.9V795.6H904.6zM904.6 755.8H920.9V775.9H904.6zM904.6 736.0H920.9V756.1H904.6zM904.6 716.3H920.9V736.3H904.6zM904.6 696.5H920.9V716.6H904.6zM904.6 676.8H920.9V696.8H904.6zM904.6 657.0H920.9V677.1H904.6zM904.6 637.2H920.9V657.3H904.6z"/>
<path fill="#5e0000" d="M817.0 854.6H825.3V874.7H817.0z"/>
<path fill="#600000" d="M761.3 1032.4H769.5V1052.5H761.3zM1024.1 973.2H1032.4V993.2H1024.1zM777.2 854.6H785.5V874.7H777.2zM793.1 854.6H809.4V874.7H793.1zM825.0 854.6H897.0V874.7H825.0zM920.6 854.6H928.8V874.7H920.6z"/>
<path fill="#620000" d="M681.6 1091.7H689.9V1111.8H681.6zM713.5 1072.0H721.7V1092.0H713.5z"/>
<path fill="#640000" d="M745.3 1052.2H753.6V1072.3H745.3zM904.6 815.1H920.9V835.1H904.6z"/>
<path fill="#660000" d="M952.4 854.6H960.7V874.7H952.4z"/>
<path fill="#680000" d="M785.2 874.4H793.4V894.4H785.2zM809.1 874.4H817.3V894.4H809.1zM968.4 874.4H976.6V894.4H968.4z"/>
<path fill="#6a0000" d="M689.6 1091.7H697.8V1111.8H689.6zM721.4 1072.0H729.7V1092.0H721.4zM1000.2 913.9H1008.5V933.9H1000.2zM984.3 894.1H992.6V914.2H984.3zM928.5 676.8H936.8V696.8H928.5z"/>
<path fill="#6c0000" d="M769.2 1032.4H777.5V1052.5H769.2zM944.5 854.6H952.7V874.7H944.5z"/>
<path fill="#6e0000" d="M665.7 1111.5H674.0V1131.5H665.7zM697.5 1091.7H705.8V1111.8H697.5zM729.4 1072.0H737.7V1092.0H729.4zM753.3 1052.2H761.6V1072.3H753.3zM1032.1 1012.7H1040.3V1032.7H1032.1zM1016.1 953.4H1024.4V973.5H1016.1zM896.7 854.6H904.9V874.7H896.7z"/>
<path fill="#700000" d="M649.8 1151.0H658.0V1171.1H649.8zM1071.9 1151.0H1080.2V1171.1H1071.9zM1048.0 1052.2H1056.3V1072.3H1048.0zM1040.0 1032.4H1048.3V1052.5H1040.0z"/>
<path fill="#720000" d="M1063.9 1091.7H1072.2V1111.8H1063.9zM1056.0 1072.0H1064.2V1092.0H1056.0zM936.5 854.6H944.8V874.7H936.5z"/>
<path fill="#740000" d="M657.7 1131.2H666.0V1151.3H657.7zM673.7 1111.5H681.9V1131.5H673.7zM705.5 1091.7H713.8V1111.8H705.5zM737.4 1072.0H745.6V1092.0H737.4zM1008.2 933.6H1016.4V953.7H1008.2zM992.3 913.9H1000.5V933.9H992.3zM976.3 894.1H984.6V914.2H976.3zM960.4 874.4H968.7V894.4H960.4z"/>
<path fill="#760000" d="M681.6 1111.5H689.9V1131.5H681.6zM713.5 1091.7H721.7V1111.8H713.5zM745.3 1072.0H753.6V1092.0H745.3zM761.3 1052.2H769.5V1072.3H761.3zM1024.1 992.9H1032.4V1013.0H1024.1zM952.4 874.4H960.7V894.4H952.4z"/>
<path fill="#780000" d="M657.7 1151.0H777.5V1171.1H657.7zM1056.0 1151.0H1072.2V1171.1H1056.0zM665.7 1131.2H777.5V1151.3H665.7zM1048.0 1131.2H1072.2V1151.3H1048.0zM689.6 1111.5H777.5V1131.5H689.6zM1048.0 1111.5H1072.2V1131.5H1048.0zM721.4 1091.7H777.5V1111.8H721.4zM1040.0 1091.7H1064.2V1111.8H1040.0zM753.3 1072.0H777.5V1092.0H753.3zM928.5 1072.0H936.8V1092.0H928.5zM1040.0 1072.0H1056.3V1092.0H1040.0zM769.2 1052.2H777.5V1072.3H769.2zM928.5 1052.2H936.8V1072.3H928.5zM1032.1 1052.2H1048.3V1072.3H1032.1zM928.5 1032.4H936.8V1052.5H928.5zM1024.1 1032.4H1040.3V1052.5H1024.1zM928.5 1012.7H936.8V1032.7H928.5zM1016.1 1012.7H1032.4V1032.7H1016.1zM928.5 992.9H936.8V1013.0H928.5zM1008.2 992.9H1024.4V1013.0H1008.2zM928.5 973.2H936.8V993.2H928.5zM1000.2 973.2H1024.4V993.2H1000.2zM928.5 953.4H936.8V973.5H928.5zM992.3 953.4H1016.4V973.5H992.3zM928.5 933.6H936.8V953.7H928.5zM976.3 933.6H1008.5V953.7H976.3zM928.5 913.9H936.8V933.9H928.5zM960.4 913.9H992.6V933.9H960.4zM928.5 894.1H976.6V914.2H928.5zM817.0 874.4H825.3V894.4H817.0zM928.5 874.4H952.7V894.4H928.5zM928.5 854.6H936.8V874.7H928.5zM904.6 834.8H920.9V854.9H904.6zM928.5 834.8H936.8V854.9H928.5zM928.5 815.1H936.8V835.1H928.5zM928.5 795.3H936.8V815.4H928.5zM928.5 775.6H936.8V795.6H928.5zM928.5 755.8H936.8V775.9H928.5zM928.5 736.0H936.8V756.1H928.5zM928.5 716.3H936.8V736.3H928.5zM928.5 696.5H936.8V716.6H928.5z"/>
<path fill="#7a0000" d="M777.2 874.4H785.5V894.4H777.2zM793.1 874.4H809.4V894.4H793.1zM825.0 874.4H897.0V894.4H825.0zM920.6 874.4H928.8V894.4H920.6z"/>
<path fill="#7c0000" d="M785.2 894.1H793.4V914.2H785.2zM809.1 894.1H817.3V914.2H809.1z"/>
<path fill="#7e0000" d="M1048.0 1151.0H1056.3V1171.1H1048.0zM1040.0 1111.5H1048.3V1131.5H1040.0zM928.5 1091.7H936.8V1111.8H928.5zM1032.1 1072.0H1040.3V1092.0H1032.1zM952.4 913.9H960.7V933.9H952.4z"/>
<path fill="#800000" d="M984.3 953.4H992.6V973.5H984.3z"/>
<path fill="#820000" d="M992.3 973.2H1000.5V993.2H992.3zM968.4 933.6H976.6V953.7H968.4z"/>
<path fill="#840000" d="M1000.2 992.9H1008.5V1013.0H1000.2z"/>
<path fill="#860000" d="M1008.2 1012.7H1016.4V1032.7H1008.2z"/>
<path fill="#880000" d="M1024.1 1052.2H1032.4V1072.3H1024.1zM1016.1 1032.4H1024.4V1052.5H1016.1zM785.2 913.9H793.4V933.9H785.2zM809.1 913.9H817.3V933.9H809.1zM944.5 913.9H952.7V933.9H944.5z"/>
<path fill="#8a0000" d="M960.4 933.6H968.7V953.7H960.4zM896.7 874.4H904.9V894.4H896.7z"/>
<path fill="#8c0000" d="M928.5 1151.0H1048.3V1171.1H928.5zM928.5 1131.2H1048.3V1151.3H928.5zM928.5 1111.5H1040.3V1131.5H928.5zM936.5 1091.7H1040.3V1111.8H936.5zM936.5 1072.0H1032.4V1092.0H936.5zM936.5 1052.2H1024.4V1072.3H936.5zM936.5 1032.4H1016.4V1052.5H936.5zM936.5 1012.7H1008.5V1032.7H936.5zM936.5 992.9H1000.5V1013.0H936.5zM936.5 973.2H992.6V993.2H936.5zM936.5 953.4H984.6V973.5H936.5zM936.5 933.6H960.7V953.7H936.5zM936.5 913.9H944.8V933.9H936.5z"/>
<path fill="#8e0000" d="M785.2 1151.0H793.4V1171.1H785.2zM809.1 1151.0H817.3V1171.1H809.1zM785.2 1131.2H793.4V1151.3H785.2zM809.1 1131.2H817.3V1151.3H809.1zM785.2 1111.5H793.4V1131.5H785.2zM809.1 1111.5H817.3V1131.5H809.1zM785.2 1091.7H793.4V1111.8H785.2zM809.1 1091.7H817.3V1111.8H809.1zM785.2 1072.0H793.4V1092.0H785.2zM809.1 1072.0H817.3V1092.0H809.1zM785.2 1052.2H793.4V1072.3H785.2zM809.1 1052.2H817.3V1072.3H809.1zM785.2 1032.4H793.4V1052.5H785.2zM809.1 1032.4H817.3V1052.5H809.1zM785.2 1012.7H793.4V1032.7H785.2zM809.1 1012.7H817.3V1032.7H809.1zM785.2 992.9H793.4V1013.0H785.2zM809.1 992.9H817.3V1013.0H809.1zM785.2 973.2H793.4V993.2H785.2zM809.1 973.2H817.3V993.2H809.1zM785.2 953.4H793.4V973.5H785.2zM809.1 953.4H817.3V973.5H809.1zM785.2 933.6H793.4V953.7H785.2zM809.1 933.6H817.3V953.7H809.1z"/>
<path fill="#900000" d="M817.0 894.1H825.3V914.2H817.0z"/>
<path fill="#940000" d="M777.2 894.1H785.5V914.2H777.2zM793.1 894.1H809.4V914.2H793.1zM825.0 894.1H897.0V914.2H825.0zM920.6 894.1H928.8V914.2H920.6z"/>
<path fill="#960000" d="M904.6 854.6H920.9V874.7H904.6z"/>
<path fill="#a20000" d="M817.0 913.9H825.3V933.9H817.0z"/>
<path fill="#a40000" d="M896.7 894.1H904.9V914.2H896.7z"/>
<path fill="#a60000" d="M777.2 913.9H785.5V933.9H777.2zM793.1 913.9H809.4V933.9H793.1zM825.0 913.9H897.0V933.9H825.0zM920.6 913.9H928.8V933.9H920.6z"/>
<path fill="#a80000" d="M817.0 1151.0H825.3V1171.1H817.0zM817.0 1131.2H825.3V1151.3H817.0zM817.0 1111.5H825.3V1131.5H817.0zM817.0 1091.7H825.3V1111.8H817.0zM817.0 1072.0H825.3V1092.0H817.0zM817.0 1052.2H825.3V1072.3H817.0zM817.0 1032.4H825.3V1052.5H817.0zM817.0 1012.7H825.3V1032.7H817.0zM817.0 992.9H825.3V1013.0H817.0zM817.0 973.2H825.3V993.2H817.0zM817.0 953.4H825.3V973.5H817.0zM817.0 933.6H825.3V953.7H817.0z"/>
<path fill="#ac0000" d="M777.2 1151.0H785.5V1171.1H777.2zM793.1 1151.0H809.4V1171.1H793.1zM825.0 1151.0H897.0V1171.1H825.0zM920.6 1151.0H928.8V1171.1H920.6zM777.2 1131.2H785.5V1151.3H777.2zM793.1 1131.2H809.4V1151.3H793.1zM825.0 1131.2H897.0V1151.3H825.0zM920.6 1131.2H928.8V1151.3H920.6zM777.2 1111.5H785.5V1131.5H777.2zM793.1 1111.5H809.4V1131.5H793.1zM825.0 1111.5H897.0V1131.5H825.0zM920.6 1111.5H928.8V1131.5H920.6zM777.2 1091.7H785.5V1111.8H777.2zM793.1 1091.7H809.4V1111.8H793.1zM825.0 1091.7H897.0V1111.8H825.0zM920.6 1091.7H928.8V1111.8H920.6zM777.2 1072.0H785.5V1092.0H777.2zM793.1 1072.0H809.4V1092.0H793.1zM825.0 1072.0H897.0V1092.0H825.0zM920.6 1072.0H928.8V1092.0H920.6zM777.2 1052.2H785.5V1072.3H777.2zM793.1 1052.2H809.4V1072.3H793.1zM825.0 1052.2H897.0V1072.3H825.0zM920.6 1052.2H928.8V1072.3H920.6zM777.2 1032.4H785.5V1052.5H777.2zM793.1 1032.4H809.4V1052.5H793.1zM825.0 1032.4H897.0V1052.5H825.0zM920.6 1032.4H928.8V1052.5H920.6zM777.2 1012.7H785.5V1032.7H777.2zM793.1 1012.7H809.4V1032.7H793.1zM825.0 1012.7H897.0V1032.7H825.0zM920.6 1012.7H928.8V1032.7H920.6zM777.2 992.9H785.5V1013.0H777.2zM793.1 992.9H809.4V1013.0H793.1zM825.0 992.9H897.0V1013.0H825.0zM920.6 992.9H928.8V1013.0H920.6zM777.2 973.2H785.5V993.2H777.2zM793.1 973.2H809.4V993.2H793.1zM825.0 973.2H897.0V993.2H825.0zM920.6 973.2H928.8V993.2H920.6zM777.2 953.4H785.5V973.5H777.2zM793.1 953.4H809.4V973.5H793.1zM825.0 953.4H897.0V973.5H825.0zM920.6 953.4H928.8V973.5H920.6zM777.2 933.6H785.5V953.7H777.2zM793.1 933.6H809.4V953.7H793.1zM825.0 933.6H897.0V953.7H825.0zM920.6 933.6H928.8V953.7H920.6z"/>
<path fill="#b40000" d="M904.6 874.4H920.9V894.4H904.6z"/>
<path fill="#b60000" d="M896.7 913.9H904.9V933.9H896.7z"/>
<path fill="#be0000" d="M896.7 1151.0H904.9V1171.1H896.7zM896.7 1131.2H904.9V1151.3H896.7zM896.7 1111.5H904.9V1131.5H896.7zM896.7 1091.7H904.9V1111.8H896.7zM896.7 1072.0H904.9V1092.0H896.7zM896.7 1052.2H904.9V1072.3H896.7zM896.7 1032.4H904.9V1052.5H896.7zM896.7 1012.7H904.9V1032.7H896.7zM896.7 992.9H904.9V1013.0H896.7zM896.7 973.2H904.9V993.2H896.7zM896.7 953.4H904.9V973.5H896.7zM896.7 933.6H904.9V953.7H896.7z"/>
<path fill="#d20000" d="M904.6 894.1H920.9V914.2H904.6z"/>
<path fill="#e80000" d="M904.6 913.9H920.9V933.9H904.6z"/>
<path fill="#f00000" d="M904.6 1151.0H920.9V1171.1H904.6zM904.6 1131.2H920.9V1151.3H904.6zM904.6 1111.5H920.9V1131.5H904.6zM904.6 1091.7H920.9V1111.8H904.6zM904.6 1072.0H920.9V1092.0H904.6zM904.6 1052.2H920.9V1072.3H904.6zM904.6 1032.4H920.9V1052.5H904.6zM904.6 1012.7H920.9V1032.7H904.6zM904.6 992.9H920.9V1013.0H904.6zM904.6 973.2H920.9V993.2H904.6zM904.6 953.4H920.9V973.5H904.6zM904.6 933.6H920.9V953.7H904.6z"/>
</g>
<linearGradient id="sg3" x1="0" y1="0" x2="0" y2="1"><stop offset="0" stop-color="#e64800"/><stop offset="0.5" stop-color="#f05c00"/><stop offset="1" stop-color="#ff8000"/></linearGradient>
<linearGradient id="sg4" x1="0" y1="0" x2="0" y2="1"><stop offset="0" stop-color="#ff5000" stop-opacity="0.06"/><stop offset="0.35" stop-color="#ff5000" stop-opacity="0.16"/><stop offset="0.6" stop-color="#ff9800" stop-opacity="0.7"/><stop offset="1" stop-color="#ffb000" stop-opacity="1"/></linearGradient>
<g style="mix-blend-mode:screen" filter="url(#b07)">
<rect x="775.8" y="637.0" width="2.8" height="534.0" fill="url(#sg3)" opacity="1.00"/>
<rect x="787.5" y="637.0" width="1.8" height="534.0" fill="url(#sg3)" opacity="0.50"/>
<rect x="796.8" y="637.0" width="2.2" height="534.0" fill="url(#sg3)" opacity="0.90"/>
<rect x="803.3" y="637.0" width="1.9" height="534.0" fill="url(#sg3)" opacity="0.60"/>
<rect x="808.2" y="637.0" width="1.8" height="534.0" fill="url(#sg3)" opacity="0.45"/>
<rect x="825.3" y="637.0" width="2.6" height="534.0" fill="url(#sg3)" opacity="1.00"/>
<rect x="832.0" y="637.0" width="1.9" height="534.0" fill="url(#sg3)" opacity="0.60"/>
<rect x="838.3" y="637.0" width="2.1" height="534.0" fill="url(#sg3)" opacity="0.80"/>
<rect x="849.2" y="637.0" width="2.6" height="534.0" fill="url(#sg3)" opacity="1.00"/>
<rect x="860.6" y="637.0" width="2.1" height="534.0" fill="url(#sg3)" opacity="0.80"/>
<rect x="868.6" y="637.0" width="1.9" height="534.0" fill="url(#sg3)" opacity="0.60"/>
<rect x="879.6" y="637.0" width="2.3" height="534.0" fill="url(#sg3)" opacity="0.90"/>
<rect x="887.4" y="637.0" width="2.6" height="534.0" fill="url(#sg3)" opacity="1.00"/>
<rect x="892.5" y="637.0" width="1.9" height="534.0" fill="url(#sg3)" opacity="0.60"/>
<rect x="901.9" y="637.0" width="2.3" height="534.0" fill="url(#sg3)" opacity="0.90"/>
<rect x="911.3" y="637.0" width="2.6" height="534.0" fill="url(#sg3)" opacity="0.80"/>
<rect x="919.5" y="637.0" width="2.1" height="534.0" fill="url(#sg3)" opacity="0.85"/>
<rect x="925.2" y="637.0" width="1.8" height="534.0" fill="url(#sg3)" opacity="0.40"/>
<rect x="775.7" y="637.0" width="5.6" height="534.0" fill="url(#sg4)" opacity="0.80"/>
<rect x="822.2" y="637.0" width="8.8" height="534.0" fill="url(#sg4)" opacity="0.95"/>
<rect x="838.9" y="637.0" width="4.0" height="534.0" fill="url(#sg4)" opacity="0.60"/>
<rect x="847.3" y="637.0" width="6.4" height="534.0" fill="url(#sg4)" opacity="0.90"/>
<rect x="862.8" y="637.0" width="4.0" height="534.0" fill="url(#sg4)" opacity="0.60"/>
<rect x="883.1" y="637.0" width="8.0" height="534.0" fill="url(#sg4)" opacity="0.90"/>
<rect x="903.4" y="637.0" width="15.1" height="534.0" fill="url(#sg4)" opacity="1.00"/>
<rect x="922.2" y="637.0" width="3.2" height="534.0" fill="url(#sg4)" opacity="0.60"/>
<rect x="416.2" y="637.0" width="2.2" height="534.0" fill="url(#sg2)" opacity="0.25"/>
<rect x="464.0" y="637.0" width="2.2" height="534.0" fill="url(#sg2)" opacity="0.30"/>
<rect x="508.6" y="637.0" width="2.2" height="534.0" fill="url(#sg2)" opacity="0.25"/>
<rect x="522.9" y="637.0" width="2.2" height="534.0" fill="url(#sg2)" opacity="0.35"/>
<rect x="564.3" y="637.0" width="2.2" height="534.0" fill="url(#sg2)" opacity="0.40"/>
<rect x="591.4" y="637.0" width="2.2" height="534.0" fill="url(#sg2)" opacity="0.50"/>
<rect x="601.0" y="637.0" width="2.2" height="534.0" fill="url(#sg2)" opacity="0.40"/>
<rect x="632.8" y="637.0" width="2.2" height="534.0" fill="url(#sg2)" opacity="0.25"/>
<rect x="674.2" y="637.0" width="2.2" height="534.0" fill="url(#sg2)" opacity="0.55"/>
<rect x="696.5" y="637.0" width="2.2" height="534.0" fill="url(#sg2)" opacity="0.50"/>
<rect x="722.0" y="637.0" width="2.2" height="534.0" fill="url(#sg2)" opacity="0.30"/>
<rect x="752.3" y="637.0" width="2.2" height="534.0" fill="url(#sg2)" opacity="0.45"/>
<rect x="962.6" y="637.0" width="2.2" height="534.0" fill="url(#sg2)" opacity="0.25"/>
<rect x="1031.1" y="637.0" width="2.2" height="534.0" fill="url(#sg2)" opacity="0.20"/>
</g>
<g style="mix-blend-mode:screen">
<polyline points="262.7,1151.0 363.0,1078.5" fill="none" stroke="#271b00" stroke-width="2" stroke-linecap="round" stroke-linejoin="round" />
<polyline points="363.0,1078.5 433.1,1027.7" fill="none" stroke="#4f3600" stroke-width="2.2" stroke-linecap="round" stroke-linejoin="round" />
<polyline points="433.1,1027.7 495.2,982.8" fill="none" stroke="#ae7700" stroke-width="2.8" stroke-linecap="round" stroke-linejoin="round" />
<polyline points="495.2,982.8 563.7,940.0" fill="none" stroke="#543900" stroke-width="2.2" stroke-linecap="round" stroke-linejoin="round" />
<polyline points="563.7,940.0 605.2,910.9" fill="none" stroke="#382600" stroke-width="2" stroke-linecap="round" stroke-linejoin="round" />
<polyline points="343.9,1010.7 367.8,979.9" fill="none" stroke="#241900" stroke-width="2" stroke-linecap="round" stroke-linejoin="round" />
<polyline points="380.5,1010.7 409.2,979.9" fill="none" stroke="#2d1f00" stroke-width="2" stroke-linecap="round" stroke-linejoin="round" />
<polyline points="378.9,1111.5 458.6,1083.8 560.6,1048.2" fill="none" stroke="#241900" stroke-width="2" stroke-linecap="round" stroke-linejoin="round" />
<polyline points="560.6,1048.2 649.8,1014.7 745.3,989.0 777.2,983.0" fill="none" stroke="#543900" stroke-width="2.2" stroke-linecap="round" stroke-linejoin="round" />
<polyline points="458.6,1074.9 713.5,1074.9" fill="none" stroke="#221700" stroke-width="3.4" stroke-linecap="round" stroke-linejoin="round" />
<polyline points="713.5,1074.9 777.2,1074.9" fill="none" stroke="#a87300" stroke-width="3" stroke-linecap="round" stroke-linejoin="round" />
<polyline points="426.7,1014.7 538.2,1014.7" fill="none" stroke="#221700" stroke-width="2.4" stroke-linecap="round" stroke-linejoin="round" />
<polyline points="458.6,1101.6 586.0,1101.6" fill="none" stroke="#1c1300" stroke-width="2.4" stroke-linecap="round" stroke-linejoin="round" />
<polyline points="347.1,1138.6 554.2,1139.1 777.2,1139.9" fill="none" stroke="#c40f00" stroke-width="6"/>
<polyline points="410.8,1091.7 506.4,1079.9" fill="none" stroke="#221700" stroke-width="2" stroke-linecap="round" stroke-linejoin="round" />
<polyline points="968.4,874.4 1016.1,920.4" fill="none" stroke="#3b2800" stroke-width="2.2" stroke-linecap="round" stroke-linejoin="round" />
<polyline points="1016.1,920.4 1038.5,945.5" fill="none" stroke="#5a3d00" stroke-width="2.4" stroke-linecap="round" stroke-linejoin="round" />
<polyline points="1038.5,945.5 1060.8,972.2" fill="none" stroke="#7e5600" stroke-width="2.6" stroke-linecap="round" stroke-linejoin="round" />
<polyline points="1060.8,972.2 1111.7,1026.5" fill="none" stroke="#432e00" stroke-width="2.3" stroke-linecap="round" stroke-linejoin="round" />
<polyline points="1111.7,1026.5 1134.0,1052.2" fill="none" stroke="#765000" stroke-width="2.6" stroke-linecap="round" stroke-linejoin="round" />
<polyline points="1134.0,1052.2 1181.8,1102.0" fill="none" stroke="#3b2800" stroke-width="2.2" stroke-linecap="round" stroke-linejoin="round" />
<polyline points="1181.8,1102.0 1207.3,1129.3" fill="none" stroke="#1c1300" stroke-width="2" stroke-linecap="round" stroke-linejoin="round" />
<polyline points="941.3,988.0 981.1,1015.2" fill="none" stroke="#624300" stroke-width="2.2" stroke-linecap="round" stroke-linejoin="round" />
<polyline points="981.1,1015.2 1025.7,1040.3" fill="none" stroke="#926300" stroke-width="2.8" stroke-linecap="round" stroke-linejoin="round" />
<polyline points="1025.7,1040.3 1073.5,1069.4" fill="none" stroke="#624300" stroke-width="2.2" stroke-linecap="round" stroke-linejoin="round" />
<polyline points="1073.5,1069.4 1105.4,1085.8" fill="none" stroke="#765000" stroke-width="2.4" stroke-linecap="round" stroke-linejoin="round" />
<polyline points="1105.4,1085.8 1138.8,1099.2" fill="none" stroke="#5a3d00" stroke-width="2.2" stroke-linecap="round" stroke-linejoin="round" />
<polyline points="1138.8,1099.2 1167.5,1111.5" fill="none" stroke="#302100" stroke-width="2" stroke-linecap="round" stroke-linejoin="round" />
<polyline points="1071.9,898.1 1105.4,952.8" fill="none" stroke="#140d00" stroke-width="2" stroke-linecap="round" stroke-linejoin="round" />
<polyline points="1105.4,952.8 1130.8,993.5" fill="none" stroke="#241900" stroke-width="2" stroke-linecap="round" stroke-linejoin="round" />
<polyline points="1130.8,993.5 1183.4,1085.8" fill="none" stroke="#140d00" stroke-width="2" stroke-linecap="round" stroke-linejoin="round" />
<polyline points="1185.0,961.5 1204.1,961.5" fill="none" stroke="#2d1f00" stroke-width="2" stroke-linecap="round" stroke-linejoin="round" />
<polyline points="237.2,1155.0 237.2,1133.2" fill="none" stroke="#8c6000" stroke-width="2.5" stroke-linecap="round" stroke-linejoin="round" />
<polyline points="237.2,1133.2 237.2,1091.7" fill="none" stroke="#382600" stroke-width="2" stroke-linecap="round" stroke-linejoin="round" />
<polyline points="237.2,1091.7 237.2,653.0" fill="none" stroke="#0a0700" stroke-width="2" stroke-linecap="round" stroke-linejoin="round" />
</g>
</g></g>
<rect x="140.0" y="16.0" width="1114.0" height="496.0" fill="none" stroke="#000" stroke-width="1.6"/>
<line x1="140.0" y1="15.8" x2="140.0" y2="513.0" stroke="#000" stroke-width="2.4"/>
<line x1="139.0" y1="512.0" x2="1254.8" y2="512.0" stroke="#000" stroke-width="1.9"/>
<path d="M140.0 492.2h4M1254.0 492.2h-4M140.0 472.3h4M1254.0 472.3h-4M140.0 452.5h4M1254.0 452.5h-4M140.0 432.6h4M1254.0 432.6h-4M140.0 412.8h10M1254.0 412.8h-10M140.0 393.0h4M1254.0 393.0h-4M140.0 373.1h4M1254.0 373.1h-4M140.0 353.3h4M1254.0 353.3h-4M140.0 333.4h4M1254.0 333.4h-4M140.0 313.6h10M1254.0 313.6h-10M140.0 293.8h4M1254.0 293.8h-4M140.0 273.9h4M1254.0 273.9h-4M140.0 254.1h4M1254.0 254.1h-4M140.0 234.2h4M1254.0 234.2h-4M140.0 214.4h10M1254.0 214.4h-10M140.0 194.6h4M1254.0 194.6h-4M140.0 174.7h4M1254.0 174.7h-4M140.0 154.9h4M1254.0 154.9h-4M140.0 135.0h4M1254.0 135.0h-4M140.0 115.2h10M1254.0 115.2h-10M140.0 95.4h4M1254.0 95.4h-4M140.0 75.5h4M1254.0 75.5h-4M140.0 55.7h4M1254.0 55.7h-4M140.0 35.8h4M1254.0 35.8h-4M161.0 512.0v-3.5M161.0 16.0v3.5M182.0 512.0v-3.5M182.0 16.0v3.5M203.0 512.0v-3.5M203.0 16.0v3.5M224.0 512.0v-3.5M224.0 16.0v3.5M245.0 512.0v-9M245.0 16.0v9M266.0 512.0v-3.5M266.0 16.0v3.5M287.0 512.0v-3.5M287.0 16.0v3.5M308.0 512.0v-3.5M308.0 16.0v3.5M329.0 512.0v-3.5M329.0 16.0v3.5M350.0 512.0v-9M350.0 16.0v9M371.0 512.0v-3.5M371.0 16.0v3.5M392.0 512.0v-3.5M392.0 16.0v3.5M413.0 512.0v-3.5M413.0 16.0v3.5M434.0 512.0v-3.5M434.0 16.0v3.5M455.0 512.0v-9M455.0 16.0v9M476.0 512.0v-3.5M476.0 16.0v3.5M497.0 512.0v-3.5M497.0 16.0v3.5M518.0 512.0v-3.5M518.0 16.0v3.5M539.0 512.0v-3.5M539.0 16.0v3.5M560.0 512.0v-9M560.0 16.0v9M581.0 512.0v-3.5M581.0 16.0v3.5M602.0 512.0v-3.5M602.0 16.0v3.5M623.0 512.0v-3.5M623.0 16.0v3.5M644.0 512.0v-3.5M644.0 16.0v3.5M665.0 512.0v-9M665.0 16.0v9M686.0 512.0v-3.5M686.0 16.0v3.5M707.0 512.0v-3.5M707.0 16.0v3.5M728.0 512.0v-3.5M728.0 16.0v3.5M749.0 512.0v-3.5M749.0 16.0v3.5M770.0 512.0v-9M770.0 16.0v9M791.0 512.0v-3.5M791.0 16.0v3.5M812.0 512.0v-3.5M812.0 16.0v3.5M833.0 512.0v-3.5M833.0 16.0v3.5M854.0 512.0v-3.5M854.0 16.0v3.5M875.0 512.0v-9M875.0 16.0v9M896.0 512.0v-3.5M896.0 16.0v3.5M917.0 512.0v-3.5M917.0 16.0v3.5M938.0 512.0v-3.5M938.0 16.0v3.5M959.0 512.0v-3.5M959.0 16.0v3.5M980.0 512.0v-9M980.0 16.0v9M1001.0 512.0v-3.5M1001.0 16.0v3.5M1022.0 512.0v-3.5M1022.0 16.0v3.5M1043.0 512.0v-3.5M1043.0 16.0v3.5M1064.0 512.0v-3.5M1064.0 16.0v3.5M1085.0 512.0v-9M1085.0 16.0v9M1106.0 512.0v-3.5M1106.0 16.0v3.5M1127.0 512.0v-3.5M1127.0 16.0v3.5M1148.0 512.0v-3.5M1148.0 16.0v3.5M1169.0 512.0v-3.5M1169.0 16.0v3.5M1190.0 512.0v-9M1190.0 16.0v9M1211.0 512.0v-3.5M1211.0 16.0v3.5M1232.0 512.0v-3.5M1232.0 16.0v3.5" stroke="#000" stroke-width="1.3" fill="none"/>
<rect x="140.0" y="657.0" width="1114.0" height="494.0" fill="none" stroke="#000" stroke-width="1.6"/>
<line x1="140.0" y1="656.8" x2="140.0" y2="1152.0" stroke="#000" stroke-width="2.4"/>
<line x1="139.0" y1="1151.0" x2="1254.8" y2="1151.0" stroke="#000" stroke-width="1.9"/>
<path d="M140.0 1131.2h4M1254.0 1131.2h-4M140.0 1111.5h4M1254.0 1111.5h-4M140.0 1091.7h4M1254.0 1091.7h-4M140.0 1072.0h4M1254.0 1072.0h-4M140.0 1052.2h10M1254.0 1052.2h-10M140.0 1032.4h4M1254.0 1032.4h-4M140.0 1012.7h4M1254.0 1012.7h-4M140.0 992.9h4M1254.0 992.9h-4M140.0 973.2h4M1254.0 973.2h-4M140.0 953.4h10M1254.0 953.4h-10M140.0 933.6h4M1254.0 933.6h-4M140.0 913.9h4M1254.0 913.9h-4M140.0 894.1h4M1254.0 894.1h-4M140.0 874.4h4M1254.0 874.4h-4M140.0 854.6h10M1254.0 854.6h-10M140.0 834.8h4M1254.0 834.8h-4M140.0 815.1h4M1254.0 815.1h-4M140.0 795.3h4M1254.0 795.3h-4M140.0 775.6h4M1254.0 775.6h-4M140.0 755.8h10M1254.0 755.8h-10M140.0 736.0h4M1254.0 736.0h-4M140.0 716.3h4M1254.0 716.3h-4M140.0 696.5h4M1254.0 696.5h-4M140.0 676.8h4M1254.0 676.8h-4M171.9 1151.0v-3.5M171.9 657.0v3.5M203.7 1151.0v-3.5M203.7 657.0v3.5M235.6 1151.0v-3.5M235.6 657.0v3.5M267.4 1151.0v-3.5M267.4 657.0v3.5M299.3 1151.0v-9M299.3 657.0v9M331.2 1151.0v-3.5M331.2 657.0v3.5M363.0 1151.0v-3.5M363.0 657.0v3.5M394.9 1151.0v-3.5M394.9 657.0v3.5M426.7 1151.0v-3.5M426.7 657.0v3.5M458.6 1151.0v-9M458.6 657.0v9M490.5 1151.0v-3.5M490.5 657.0v3.5M522.3 1151.0v-3.5M522.3 657.0v3.5M554.2 1151.0v-3.5M554.2 657.0v3.5M586.0 1151.0v-3.5M586.0 657.0v3.5M617.9 1151.0v-9M617.9 657.0v9M649.8 1151.0v-3.5M649.8 657.0v3.5M681.6 1151.0v-3.5M681.6 657.0v3.5M713.5 1151.0v-3.5M713.5 657.0v3.5M745.3 1151.0v-3.5M745.3 657.0v3.5M777.2 1151.0v-9M777.2 657.0v9M809.1 1151.0v-3.5M809.1 657.0v3.5M840.9 1151.0v-3.5M840.9 657.0v3.5M872.8 1151.0v-3.5M872.8 657.0v3.5M904.6 1151.0v-3.5M904.6 657.0v3.5M936.5 1151.0v-9M936.5 657.0v9M968.4 1151.0v-3.5M968.4 657.0v3.5M1000.2 1151.0v-3.5M1000.2 657.0v3.5M1032.1 1151.0v-3.5M1032.1 657.0v3.5M1063.9 1151.0v-3.5M1063.9 657.0v3.5M1095.8 1151.0v-9M1095.8 657.0v9M1127.7 1151.0v-3.5M1127.7 657.0v3.5M1159.5 1151.0v-3.5M1159.5 657.0v3.5M1191.4 1151.0v-3.5M1191.4 657.0v3.5M1223.2 1151.0v-3.5M1223.2 657.0v3.5" stroke="#000" stroke-width="1.3" fill="none"/>
<text class="tk" x="129.3" y="518.3" text-anchor="end">0</text>
<text class="tk" x="129.3" y="419.1" text-anchor="end">500</text>
<text class="tk" x="129.3" y="319.9" text-anchor="end">1000</text>
<text class="tk" x="129.3" y="220.7" text-anchor="end">1500</text>
<text class="tk" x="129.3" y="121.5" text-anchor="end">2000</text>
<text class="tk" x="129.3" y="22.3" text-anchor="end">2500</text>
<text class="tk" x="129.3" y="1157.3" text-anchor="end">0</text>
<text class="tk" x="129.3" y="1058.5" text-anchor="end">500</text>
<text class="tk" x="129.3" y="959.7" text-anchor="end">1000</text>
<text class="tk" x="129.3" y="860.9" text-anchor="end">1500</text>
<text class="tk" x="129.3" y="762.1" text-anchor="end">2000</text>
<text class="tk" x="129.3" y="663.3" text-anchor="end">2500</text>
<text class="tk" x="139.5" y="539.8" text-anchor="middle">0</text>
<text class="tk" x="244.5" y="539.8" text-anchor="middle">5</text>
<text class="tk" x="349.5" y="539.8" text-anchor="middle">10</text>
<text class="tk" x="454.5" y="539.8" text-anchor="middle">15</text>
<text class="tk" x="559.5" y="539.8" text-anchor="middle">20</text>
<text class="tk" x="664.5" y="539.8" text-anchor="middle">25</text>
<text class="tk" x="769.5" y="539.8" text-anchor="middle">30</text>
<text class="tk" x="874.5" y="539.8" text-anchor="middle">35</text>
<text class="tk" x="979.5" y="539.8" text-anchor="middle">40</text>
<text class="tk" x="1084.5" y="539.8" text-anchor="middle">45</text>
<text class="tk" x="1189.5" y="539.8" text-anchor="middle">50</text>
<text class="tk" x="139.5" y="1178.8" text-anchor="middle">0</text>
<text class="tk" x="298.8" y="1178.8" text-anchor="middle">10</text>
<text class="tk" x="458.1" y="1178.8" text-anchor="middle">20</text>
<text class="tk" x="617.4" y="1178.8" text-anchor="middle">30</text>
<text class="tk" x="776.7" y="1178.8" text-anchor="middle">40</text>
<text class="tk" x="936.0" y="1178.8" text-anchor="middle">50</text>
<text class="tk" x="1095.3" y="1178.8" text-anchor="middle">60</text>
<text class="ax" x="713" y="585.5" text-anchor="middle" word-spacing="-3.5">Time [s]</text>
<text class="ax" x="695" y="1224.5" text-anchor="middle" word-spacing="-3.5">Time [s]</text>
<text class="ax" transform="translate(30.3 284.6) rotate(-90)" text-anchor="middle">Frequency [Hz]</text>
<text class="ax" transform="translate(30.3 888.4) rotate(-90)" text-anchor="middle">Frequency [Hz]</text>
<text class="ax" transform="translate(1404.5 277.8) rotate(-90)" text-anchor="middle" style="letter-spacing:0.1px">Amplitude [m/s^2]</text>
<text class="ax" transform="translate(1404.5 898) rotate(-90)" text-anchor="middle" style="letter-spacing:0.1px">Amplitude [m/s^2]</text>
<rect x="1272.0" y="16.0" width="36.59999999999991" height="496.0" fill="url(#jet)" stroke="#000" stroke-width="1.7"/>
<path d="M1272.0 59.7h9M1308.6 59.7h-9" stroke="#000" stroke-width="1.6"/>
<text class="cb" x="1320.5" y="66.5">0.2</text>
<path d="M1272.0 173h9M1308.6 173h-9" stroke="#000" stroke-width="1.6"/>
<text class="cb" x="1320.5" y="179.8">0.15</text>
<path d="M1272.0 286h9M1308.6 286h-9" stroke="#000" stroke-width="1.6"/>
<text class="cb" x="1320.5" y="292.8">0.1</text>
<path d="M1272.0 399h9M1308.6 399h-9" stroke="#000" stroke-width="1.6"/>
<text class="cb" x="1320.5" y="405.8">0.05</text>
<rect x="1272.0" y="657.0" width="36.59999999999991" height="494.0" fill="url(#jet)" stroke="#000" stroke-width="1.7"/>
<path d="M1272.0 801h9M1308.6 801h-9" stroke="#000" stroke-width="1.6"/>
<text class="cb" x="1320.5" y="807.8">0.2</text>
<path d="M1272.0 976h9M1308.6 976h-9" stroke="#000" stroke-width="1.6"/>
<text class="cb" x="1320.5" y="982.8">0.1</text>
<rect x="955.3" y="464.6" width="279.8" height="35.2" fill="#38389e" stroke="#0808f8" stroke-width="3"/>
<text class="lb" x="961.5" y="493">(a) Normal condition</text>
<rect x="975.5" y="1102.4" width="259.6" height="37.6" fill="#36329c" stroke="#0808f8" stroke-width="3"/>
<text class="lb" x="980" y="1132.5">(b) No traction</text>
</svg></body></html>
